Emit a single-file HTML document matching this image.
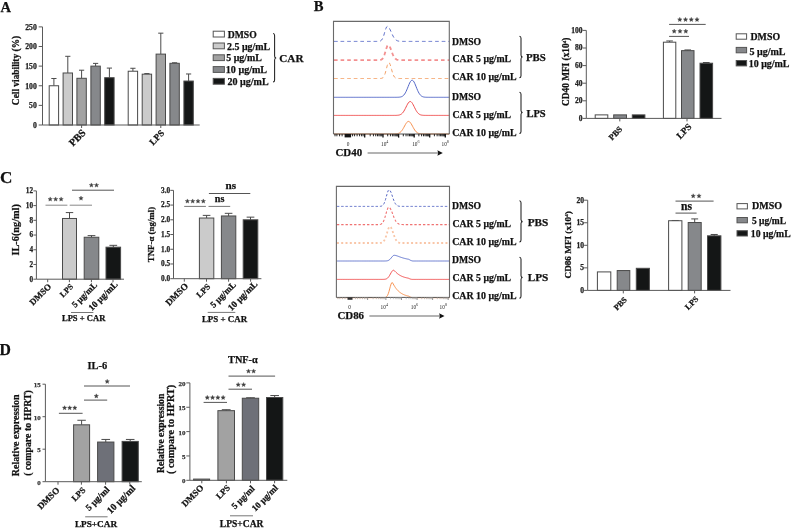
<!DOCTYPE html>
<html><head><meta charset="utf-8"><style>
html,body{margin:0;padding:0;background:#fff;}
body{width:797px;height:528px;overflow:hidden;}
svg{display:block;will-change:transform;}
</style></head><body>
<svg width="797" height="528" viewBox="0 0 797 528" font-family="Liberation Serif, serif">
<rect x="0" y="0" width="797" height="528" fill="#ffffff"/>
<text x="0.54" y="11.52" font-family="Liberation Serif" font-size="14.54" font-weight="bold" text-anchor="start" fill="#111111" stroke="#111111" stroke-width="0.25" >A</text>
<text x="313.8" y="11.38" font-family="Liberation Serif" font-size="14.61" font-weight="bold" text-anchor="start" fill="#111111" stroke="#111111" stroke-width="0.25" >B</text>
<text x="-0.02" y="183.16" font-family="Liberation Serif" font-size="17.14" font-weight="bold" text-anchor="start" fill="#111111" stroke="#111111" stroke-width="0.25" >C</text>
<text x="-0.64" y="355.42" font-family="Liberation Serif" font-size="15.75" font-weight="bold" text-anchor="start" fill="#111111" stroke="#111111" stroke-width="0.25" >D</text>
<line x1="53.9" y1="85.75" x2="53.9" y2="78.49" stroke="#4a4a4a" stroke-width="1" />
<line x1="51.3" y1="78.49" x2="56.5" y2="78.49" stroke="#4a4a4a" stroke-width="1" />
<rect x="49.2" y="85.75" width="9.4" height="39.25" fill="#ffffff" stroke="#4a4a4a" stroke-width="1"/>
<line x1="67.8" y1="72.99" x2="67.8" y2="56.31" stroke="#4a4a4a" stroke-width="1" />
<line x1="65.2" y1="56.31" x2="70.4" y2="56.31" stroke="#4a4a4a" stroke-width="1" />
<rect x="63.1" y="72.99" width="9.4" height="52.01" fill="#cbcbcb" stroke="#4a4a4a" stroke-width="1"/>
<line x1="81.6" y1="78.29" x2="81.6" y2="70.21" stroke="#4a4a4a" stroke-width="1" />
<line x1="79" y1="70.21" x2="84.2" y2="70.21" stroke="#4a4a4a" stroke-width="1" />
<rect x="76.9" y="78.29" width="9.4" height="46.71" fill="#a2a2a2" stroke="#4a4a4a" stroke-width="1"/>
<line x1="95.6" y1="66.12" x2="95.6" y2="63.38" stroke="#4a4a4a" stroke-width="1" />
<line x1="93" y1="63.38" x2="98.2" y2="63.38" stroke="#4a4a4a" stroke-width="1" />
<rect x="90.9" y="66.12" width="9.4" height="58.88" fill="#86888b" stroke="#4a4a4a" stroke-width="1"/>
<line x1="109.4" y1="77.7" x2="109.4" y2="68.09" stroke="#4a4a4a" stroke-width="1" />
<line x1="106.8" y1="68.09" x2="112" y2="68.09" stroke="#4a4a4a" stroke-width="1" />
<rect x="104.7" y="77.7" width="9.4" height="47.3" fill="#141616" stroke="#4a4a4a" stroke-width="1"/>
<line x1="132.9" y1="71.23" x2="132.9" y2="68.28" stroke="#4a4a4a" stroke-width="1" />
<line x1="130.3" y1="68.28" x2="135.5" y2="68.28" stroke="#4a4a4a" stroke-width="1" />
<rect x="128.2" y="71.23" width="9.4" height="53.77" fill="#ffffff" stroke="#4a4a4a" stroke-width="1"/>
<line x1="146.9" y1="74.17" x2="146.9" y2="73.58" stroke="#4a4a4a" stroke-width="1" />
<line x1="144.3" y1="73.58" x2="149.5" y2="73.58" stroke="#4a4a4a" stroke-width="1" />
<rect x="142.2" y="74.17" width="9.4" height="50.83" fill="#cbcbcb" stroke="#4a4a4a" stroke-width="1"/>
<line x1="160.8" y1="54.11" x2="160.8" y2="33.16" stroke="#4a4a4a" stroke-width="1" />
<line x1="158.2" y1="33.16" x2="163.4" y2="33.16" stroke="#4a4a4a" stroke-width="1" />
<rect x="156.1" y="54.11" width="9.4" height="70.89" fill="#a2a2a2" stroke="#4a4a4a" stroke-width="1"/>
<line x1="174.6" y1="63.3" x2="174.6" y2="62.79" stroke="#4a4a4a" stroke-width="1" />
<line x1="172" y1="62.79" x2="177.2" y2="62.79" stroke="#4a4a4a" stroke-width="1" />
<rect x="169.9" y="63.3" width="9.4" height="61.7" fill="#86888b" stroke="#4a4a4a" stroke-width="1"/>
<line x1="188.6" y1="81.04" x2="188.6" y2="73.97" stroke="#4a4a4a" stroke-width="1" />
<line x1="186" y1="73.97" x2="191.2" y2="73.97" stroke="#4a4a4a" stroke-width="1" />
<rect x="183.9" y="81.04" width="9.4" height="43.96" fill="#141616" stroke="#4a4a4a" stroke-width="1"/>
<line x1="42.5" y1="125" x2="42.5" y2="26.88" stroke="#5a5a5a" stroke-width="1" />
<line x1="42.5" y1="125" x2="199.7" y2="125" stroke="#5a5a5a" stroke-width="1" />
<line x1="38.7" y1="125" x2="42.5" y2="125" stroke="#5a5a5a" stroke-width="1" />
<text x="36.8" y="127.84" font-family="Liberation Serif" font-size="7.7" font-weight="bold" text-anchor="end" fill="#222" stroke="#222" stroke-width="0.25" >0</text>
<line x1="38.7" y1="105.38" x2="42.5" y2="105.38" stroke="#5a5a5a" stroke-width="1" />
<text x="36.8" y="108.22" font-family="Liberation Serif" font-size="7.7" font-weight="bold" text-anchor="end" fill="#222" stroke="#222" stroke-width="0.25" >50</text>
<line x1="38.7" y1="85.75" x2="42.5" y2="85.75" stroke="#5a5a5a" stroke-width="1" />
<text x="36.8" y="88.59" font-family="Liberation Serif" font-size="7.7" font-weight="bold" text-anchor="end" fill="#222" stroke="#222" stroke-width="0.25" >100</text>
<line x1="38.7" y1="66.12" x2="42.5" y2="66.12" stroke="#5a5a5a" stroke-width="1" />
<text x="36.8" y="68.97" font-family="Liberation Serif" font-size="7.7" font-weight="bold" text-anchor="end" fill="#222" stroke="#222" stroke-width="0.25" >150</text>
<line x1="38.7" y1="46.5" x2="42.5" y2="46.5" stroke="#5a5a5a" stroke-width="1" />
<text x="36.8" y="49.34" font-family="Liberation Serif" font-size="7.7" font-weight="bold" text-anchor="end" fill="#222" stroke="#222" stroke-width="0.25" >200</text>
<line x1="38.7" y1="26.88" x2="42.5" y2="26.88" stroke="#5a5a5a" stroke-width="1" />
<text x="36.8" y="29.72" font-family="Liberation Serif" font-size="7.7" font-weight="bold" text-anchor="end" fill="#222" stroke="#222" stroke-width="0.25" >250</text>
<line x1="81.6" y1="125" x2="81.6" y2="128" stroke="#5a5a5a" stroke-width="1" />
<line x1="160.8" y1="125" x2="160.8" y2="128" stroke="#5a5a5a" stroke-width="1" />
<text x="86.4" y="133.5" font-family="Liberation Serif" font-size="10.24" font-weight="bold" text-anchor="end" fill="#111111" stroke="#111111" stroke-width="0.25" transform="rotate(-45 86.4 133.5)" >PBS</text>
<text x="164.88" y="133.74" font-family="Liberation Serif" font-size="9.18" font-weight="bold" text-anchor="end" fill="#111111" stroke="#111111" stroke-width="0.25" transform="rotate(-45 164.88 133.74)" >LPS</text>
<text x="18.52" y="70.5" font-family="Liberation Serif" font-size="9.39" font-weight="bold" text-anchor="middle" fill="#111111" stroke="#111111" stroke-width="0.25" transform="rotate(-90 18.52 70.5)" >Cell viability (%)</text>
<rect x="213.2" y="31.2" width="11.2" height="5.8" fill="#ffffff" stroke="#555" stroke-width="1"/>
<text x="227.68" y="38.18" font-family="Liberation Serif" font-size="9.67" font-weight="bold" text-anchor="start" fill="#111111" stroke="#111111" stroke-width="0.25" >DMSO</text>
<rect x="213.2" y="43" width="11.2" height="5.8" fill="#cbcbcb" stroke="#555" stroke-width="1"/>
<text x="227.04" y="49.5" font-family="Liberation Serif" font-size="9.94" font-weight="bold" text-anchor="start" fill="#111111" stroke="#111111" stroke-width="0.25" >2.5 μg/mL</text>
<rect x="213.2" y="54.8" width="11.2" height="5.8" fill="#a2a2a2" stroke="#555" stroke-width="1"/>
<text x="226.24" y="61.3" font-family="Liberation Serif" font-size="9.93" font-weight="bold" text-anchor="start" fill="#111111" stroke="#111111" stroke-width="0.25" >5 μg/mL</text>
<rect x="213.2" y="66.6" width="11.2" height="5.8" fill="#86888b" stroke="#555" stroke-width="1"/>
<text x="225.84" y="73.1" font-family="Liberation Serif" font-size="10.09" font-weight="bold" text-anchor="start" fill="#111111" stroke="#111111" stroke-width="0.25" >10 μg/mL</text>
<rect x="213.2" y="78.4" width="11.2" height="5.8" fill="#141616" stroke="#555" stroke-width="1"/>
<text x="227.52" y="84.9" font-family="Liberation Serif" font-size="10.04" font-weight="bold" text-anchor="start" fill="#111111" stroke="#111111" stroke-width="0.25" >20 μg/mL</text>
<path d="M273,33.5 Q274.6,33.5 274.6,35.5 L274.6,56 Q274.6,58 276.2,58 Q274.6,58 274.6,60 L274.6,80 Q274.6,82 273,82" stroke="#222" stroke-width="1.05" fill="none" />
<text x="279.3" y="62.1" font-family="Liberation Serif" font-size="11.17" font-weight="bold" text-anchor="start" fill="#111111" stroke="#111111" stroke-width="0.25" >CAR</text>
<path d="M334,41.4 L334.72,41.4 L335.44,41.4 L336.16,41.4 L336.88,41.4 L337.6,41.4 L338.32,41.4 L339.04,41.4 L339.76,41.4 L340.49,41.4 L341.21,41.4 L341.93,41.4 L342.65,41.4 L343.37,41.4 L344.09,41.4 L344.81,41.4 L345.53,41.4 L346.25,41.4 L346.97,41.4 L347.69,41.4 L348.41,41.4 L349.13,41.4 L349.85,41.4 L350.57,41.4 L351.3,41.4 L352.02,41.4 L352.74,41.4 L353.46,41.4 L354.18,41.4 L354.9,41.4 L355.62,41.4 L356.34,41.4 L357.06,41.4 L357.78,41.4 L358.5,41.4 L359.22,41.4 L359.94,41.4 L360.66,41.4 L361.38,41.4 L362.1,41.4 L362.82,41.4 L363.55,41.4 L364.27,41.4 L364.99,41.4 L365.71,41.4 L366.43,41.4 L367.15,41.4 L367.87,41.4 L368.59,41.4 L369.31,41.4 L370.03,41.4 L370.75,41.4 L371.47,41.4 L372.19,41.4 L372.91,41.4 L373.63,41.4 L374.36,41.4 L375.08,41.4 L375.8,41.4 L376.52,41.4 L377.24,41.39 L377.96,41.38 L378.68,41.34 L379.4,41.25 L380.12,41.07 L380.84,40.71 L381.56,40.09 L382.28,39.07 L383,37.57 L383.72,35.58 L384.44,33.2 L385.16,30.7 L385.88,28.46 L386.61,26.93 L387.33,26.4 L388.05,26.66 L388.77,27.38 L389.49,28.48 L390.21,29.89 L390.93,31.46 L391.65,33.1 L392.37,34.68 L393.09,36.14 L393.81,37.41 L394.53,38.47 L395.25,39.32 L395.97,39.97 L396.69,40.45 L397.42,40.79 L398.14,41.02 L398.86,41.17 L399.58,41.26 L400.3,41.32 L401.02,41.36 L401.74,41.38 L402.46,41.39 L403.18,41.39 L403.9,41.4 L404.62,41.4 L405.34,41.4 L406.06,41.4 L406.78,41.4 L407.5,41.4 L408.22,41.4 L408.94,41.4 L409.67,41.4 L410.39,41.4 L411.11,41.4 L411.83,41.4 L412.55,41.4 L413.27,41.4 L413.99,41.4 L414.71,41.4 L415.43,41.4 L416.15,41.4 L416.87,41.4 L417.59,41.4 L418.31,41.4 L419.03,41.4 L419.75,41.4 L420.48,41.4 L421.2,41.4 L421.92,41.4 L422.64,41.4 L423.36,41.4 L424.08,41.4 L424.8,41.4 L425.52,41.4 L426.24,41.4 L426.96,41.4 L427.68,41.4 L428.4,41.4 L429.12,41.4 L429.84,41.4 L430.56,41.4 L431.28,41.4 L432,41.4 L432.73,41.4 L433.45,41.4 L434.17,41.4 L434.89,41.4 L435.61,41.4 L436.33,41.4 L437.05,41.4 L437.77,41.4 L438.49,41.4 L439.21,41.4 L439.93,41.4 L440.65,41.4 L441.37,41.4 L442.09,41.4 L442.81,41.4 L443.54,41.4 L444.26,41.4 L444.98,41.4 L445.7,41.4 L446.42,41.4 L447.14,41.4 L447.86,41.4 L448.58,41.4 L449.3,41.4" stroke="#5a6cc8" stroke-width="1" fill="none" stroke-dasharray="3.6 3.0" stroke-linejoin="round"/>
<path d="M334,60.1 L334.72,60.1 L335.44,60.1 L336.16,60.1 L336.88,60.1 L337.6,60.1 L338.32,60.1 L339.04,60.1 L339.76,60.1 L340.49,60.1 L341.21,60.1 L341.93,60.1 L342.65,60.1 L343.37,60.1 L344.09,60.1 L344.81,60.1 L345.53,60.1 L346.25,60.1 L346.97,60.1 L347.69,60.1 L348.41,60.1 L349.13,60.1 L349.85,60.1 L350.57,60.1 L351.3,60.1 L352.02,60.1 L352.74,60.1 L353.46,60.1 L354.18,60.1 L354.9,60.1 L355.62,60.1 L356.34,60.1 L357.06,60.1 L357.78,60.1 L358.5,60.1 L359.22,60.1 L359.94,60.1 L360.66,60.1 L361.38,60.1 L362.1,60.1 L362.82,60.1 L363.55,60.1 L364.27,60.1 L364.99,60.1 L365.71,60.1 L366.43,60.1 L367.15,60.1 L367.87,60.1 L368.59,60.1 L369.31,60.1 L370.03,60.1 L370.75,60.1 L371.47,60.1 L372.19,60.1 L372.91,60.1 L373.63,60.1 L374.36,60.1 L375.08,60.1 L375.8,60.1 L376.52,60.1 L377.24,60.1 L377.96,60.09 L378.68,60.08 L379.4,60.05 L380.12,59.98 L380.84,59.83 L381.56,59.52 L382.28,58.98 L383,58.07 L383.72,56.69 L384.44,54.82 L385.16,52.51 L385.88,50.01 L386.61,47.67 L387.33,45.92 L388.05,45.13 L388.77,45.32 L389.49,46.2 L390.21,47.64 L390.93,49.45 L391.65,51.42 L392.37,53.35 L393.09,55.1 L393.81,56.57 L394.53,57.72 L395.25,58.57 L395.97,59.16 L396.69,59.55 L397.42,59.8 L398.14,59.94 L398.86,60.02 L399.58,60.06 L400.3,60.08 L401.02,60.09 L401.74,60.1 L402.46,60.1 L403.18,60.1 L403.9,60.1 L404.62,60.1 L405.34,60.1 L406.06,60.1 L406.78,60.1 L407.5,60.1 L408.22,60.1 L408.94,60.1 L409.67,60.1 L410.39,60.1 L411.11,60.1 L411.83,60.1 L412.55,60.1 L413.27,60.1 L413.99,60.1 L414.71,60.1 L415.43,60.1 L416.15,60.1 L416.87,60.1 L417.59,60.1 L418.31,60.1 L419.03,60.1 L419.75,60.1 L420.48,60.1 L421.2,60.1 L421.92,60.1 L422.64,60.1 L423.36,60.1 L424.08,60.1 L424.8,60.1 L425.52,60.1 L426.24,60.1 L426.96,60.1 L427.68,60.1 L428.4,60.1 L429.12,60.1 L429.84,60.1 L430.56,60.1 L431.28,60.1 L432,60.1 L432.73,60.1 L433.45,60.1 L434.17,60.1 L434.89,60.1 L435.61,60.1 L436.33,60.1 L437.05,60.1 L437.77,60.1 L438.49,60.1 L439.21,60.1 L439.93,60.1 L440.65,60.1 L441.37,60.1 L442.09,60.1 L442.81,60.1 L443.54,60.1 L444.26,60.1 L444.98,60.1 L445.7,60.1 L446.42,60.1 L447.14,60.1 L447.86,60.1 L448.58,60.1 L449.3,60.1" stroke="#f39090" stroke-width="1.8" fill="none" stroke-dasharray="3.6 3.0" stroke-linejoin="round"/>
<path d="M334,78.5 L334.72,78.5 L335.44,78.5 L336.16,78.5 L336.88,78.5 L337.6,78.5 L338.32,78.5 L339.04,78.5 L339.76,78.5 L340.49,78.5 L341.21,78.5 L341.93,78.5 L342.65,78.5 L343.37,78.5 L344.09,78.5 L344.81,78.5 L345.53,78.5 L346.25,78.5 L346.97,78.5 L347.69,78.5 L348.41,78.5 L349.13,78.5 L349.85,78.5 L350.57,78.5 L351.3,78.5 L352.02,78.5 L352.74,78.5 L353.46,78.5 L354.18,78.5 L354.9,78.5 L355.62,78.5 L356.34,78.5 L357.06,78.5 L357.78,78.5 L358.5,78.5 L359.22,78.5 L359.94,78.5 L360.66,78.5 L361.38,78.5 L362.1,78.5 L362.82,78.5 L363.55,78.5 L364.27,78.5 L364.99,78.5 L365.71,78.5 L366.43,78.5 L367.15,78.5 L367.87,78.5 L368.59,78.5 L369.31,78.5 L370.03,78.5 L370.75,78.5 L371.47,78.5 L372.19,78.5 L372.91,78.5 L373.63,78.5 L374.36,78.5 L375.08,78.5 L375.8,78.5 L376.52,78.5 L377.24,78.5 L377.96,78.5 L378.68,78.5 L379.4,78.49 L380.12,78.48 L380.84,78.43 L381.56,78.33 L382.28,78.1 L383,77.64 L383.72,76.79 L384.44,75.42 L385.16,73.42 L385.88,70.85 L386.61,67.97 L387.33,65.25 L388.05,63.27 L388.77,62.5 L389.49,63.05 L390.21,64.68 L390.93,67.06 L391.65,69.73 L392.37,72.27 L393.09,74.4 L393.81,76 L394.53,77.09 L395.25,77.76 L395.97,78.14 L396.69,78.34 L397.42,78.43 L398.14,78.47 L398.86,78.49 L399.58,78.5 L400.3,78.5 L401.02,78.5 L401.74,78.5 L402.46,78.5 L403.18,78.5 L403.9,78.5 L404.62,78.5 L405.34,78.5 L406.06,78.5 L406.78,78.5 L407.5,78.5 L408.22,78.5 L408.94,78.5 L409.67,78.5 L410.39,78.5 L411.11,78.5 L411.83,78.5 L412.55,78.5 L413.27,78.5 L413.99,78.5 L414.71,78.5 L415.43,78.5 L416.15,78.5 L416.87,78.5 L417.59,78.5 L418.31,78.5 L419.03,78.5 L419.75,78.5 L420.48,78.5 L421.2,78.5 L421.92,78.5 L422.64,78.5 L423.36,78.5 L424.08,78.5 L424.8,78.5 L425.52,78.5 L426.24,78.5 L426.96,78.5 L427.68,78.5 L428.4,78.5 L429.12,78.5 L429.84,78.5 L430.56,78.5 L431.28,78.5 L432,78.5 L432.73,78.5 L433.45,78.5 L434.17,78.5 L434.89,78.5 L435.61,78.5 L436.33,78.5 L437.05,78.5 L437.77,78.5 L438.49,78.5 L439.21,78.5 L439.93,78.5 L440.65,78.5 L441.37,78.5 L442.09,78.5 L442.81,78.5 L443.54,78.5 L444.26,78.5 L444.98,78.5 L445.7,78.5 L446.42,78.5 L447.14,78.5 L447.86,78.5 L448.58,78.5 L449.3,78.5" stroke="#f4a066" stroke-width="1" fill="none" stroke-dasharray="3.6 3.0" stroke-linejoin="round"/>
<path d="M334,97.3 L334.72,97.3 L335.44,97.3 L336.16,97.3 L336.88,97.3 L337.6,97.3 L338.32,97.3 L339.04,97.3 L339.76,97.3 L340.49,97.3 L341.21,97.3 L341.93,97.3 L342.65,97.3 L343.37,97.3 L344.09,97.3 L344.81,97.3 L345.53,97.3 L346.25,97.3 L346.97,97.3 L347.69,97.3 L348.41,97.3 L349.13,97.3 L349.85,97.3 L350.57,97.3 L351.3,97.3 L352.02,97.3 L352.74,97.3 L353.46,97.3 L354.18,97.3 L354.9,97.3 L355.62,97.3 L356.34,97.3 L357.06,97.3 L357.78,97.3 L358.5,97.3 L359.22,97.3 L359.94,97.3 L360.66,97.3 L361.38,97.3 L362.1,97.3 L362.82,97.3 L363.55,97.3 L364.27,97.3 L364.99,97.3 L365.71,97.3 L366.43,97.3 L367.15,97.3 L367.87,97.3 L368.59,97.3 L369.31,97.3 L370.03,97.3 L370.75,97.3 L371.47,97.3 L372.19,97.3 L372.91,97.3 L373.63,97.3 L374.36,97.3 L375.08,97.3 L375.8,97.3 L376.52,97.3 L377.24,97.3 L377.96,97.3 L378.68,97.3 L379.4,97.3 L380.12,97.3 L380.84,97.3 L381.56,97.3 L382.28,97.3 L383,97.3 L383.72,97.3 L384.44,97.3 L385.16,97.3 L385.88,97.3 L386.61,97.3 L387.33,97.3 L388.05,97.3 L388.77,97.3 L389.49,97.3 L390.21,97.3 L390.93,97.3 L391.65,97.3 L392.37,97.3 L393.09,97.3 L393.81,97.3 L394.53,97.3 L395.25,97.3 L395.97,97.29 L396.69,97.29 L397.42,97.27 L398.14,97.25 L398.86,97.21 L399.58,97.14 L400.3,97.03 L401.02,96.86 L401.74,96.6 L402.46,96.22 L403.18,95.7 L403.9,94.99 L404.62,94.06 L405.34,92.9 L406.06,91.52 L406.78,89.92 L407.5,88.18 L408.22,86.36 L408.94,84.58 L409.67,82.96 L410.39,81.63 L411.11,80.69 L411.83,80.24 L412.55,80.3 L413.27,80.88 L413.99,81.92 L414.71,83.34 L415.43,85.01 L416.15,86.81 L416.87,88.61 L417.59,90.33 L418.31,91.88 L419.03,93.21 L419.75,94.31 L420.48,95.18 L421.2,95.84 L421.92,96.33 L422.64,96.67 L423.36,96.91 L424.08,97.06 L424.8,97.16 L425.52,97.22 L426.24,97.26 L426.96,97.28 L427.68,97.29 L428.4,97.29 L429.12,97.3 L429.84,97.3 L430.56,97.3 L431.28,97.3 L432,97.3 L432.73,97.3 L433.45,97.3 L434.17,97.3 L434.89,97.3 L435.61,97.3 L436.33,97.3 L437.05,97.3 L437.77,97.3 L438.49,97.3 L439.21,97.3 L439.93,97.3 L440.65,97.3 L441.37,97.3 L442.09,97.3 L442.81,97.3 L443.54,97.3 L444.26,97.3 L444.98,97.3 L445.7,97.3 L446.42,97.3 L447.14,97.3 L447.86,97.3 L448.58,97.3 L449.3,97.3" stroke="#5468c8" stroke-width="1" fill="none"  stroke-linejoin="round"/>
<path d="M334,115.4 L334.72,115.4 L335.44,115.4 L336.16,115.4 L336.88,115.4 L337.6,115.4 L338.32,115.4 L339.04,115.4 L339.76,115.4 L340.49,115.4 L341.21,115.4 L341.93,115.4 L342.65,115.4 L343.37,115.4 L344.09,115.4 L344.81,115.4 L345.53,115.4 L346.25,115.4 L346.97,115.4 L347.69,115.4 L348.41,115.4 L349.13,115.4 L349.85,115.4 L350.57,115.4 L351.3,115.4 L352.02,115.4 L352.74,115.4 L353.46,115.4 L354.18,115.4 L354.9,115.4 L355.62,115.4 L356.34,115.4 L357.06,115.4 L357.78,115.4 L358.5,115.4 L359.22,115.4 L359.94,115.4 L360.66,115.4 L361.38,115.4 L362.1,115.4 L362.82,115.4 L363.55,115.4 L364.27,115.4 L364.99,115.4 L365.71,115.4 L366.43,115.4 L367.15,115.4 L367.87,115.4 L368.59,115.4 L369.31,115.4 L370.03,115.4 L370.75,115.4 L371.47,115.4 L372.19,115.4 L372.91,115.4 L373.63,115.4 L374.36,115.4 L375.08,115.4 L375.8,115.4 L376.52,115.4 L377.24,115.4 L377.96,115.4 L378.68,115.4 L379.4,115.4 L380.12,115.4 L380.84,115.4 L381.56,115.4 L382.28,115.4 L383,115.4 L383.72,115.4 L384.44,115.4 L385.16,115.4 L385.88,115.4 L386.61,115.4 L387.33,115.4 L388.05,115.4 L388.77,115.4 L389.49,115.4 L390.21,115.4 L390.93,115.4 L391.65,115.4 L392.37,115.4 L393.09,115.4 L393.81,115.4 L394.53,115.39 L395.25,115.38 L395.97,115.37 L396.69,115.34 L397.42,115.29 L398.14,115.22 L398.86,115.1 L399.58,114.92 L400.3,114.65 L401.02,114.27 L401.74,113.75 L402.46,113.06 L403.18,112.19 L403.9,111.13 L404.62,109.89 L405.34,108.51 L406.06,107.05 L406.78,105.58 L407.5,104.2 L408.22,103.02 L408.94,102.14 L409.67,101.62 L410.39,101.51 L411.11,101.84 L411.83,102.55 L412.55,103.6 L413.27,104.9 L413.99,106.33 L414.71,107.81 L415.43,109.24 L416.15,110.55 L416.87,111.7 L417.59,112.66 L418.31,113.44 L419.03,114.04 L419.75,114.48 L420.48,114.8 L421.2,115.02 L421.92,115.17 L422.64,115.26 L423.36,115.32 L424.08,115.35 L424.8,115.38 L425.52,115.39 L426.24,115.39 L426.96,115.4 L427.68,115.4 L428.4,115.4 L429.12,115.4 L429.84,115.4 L430.56,115.4 L431.28,115.4 L432,115.4 L432.73,115.4 L433.45,115.4 L434.17,115.4 L434.89,115.4 L435.61,115.4 L436.33,115.4 L437.05,115.4 L437.77,115.4 L438.49,115.4 L439.21,115.4 L439.93,115.4 L440.65,115.4 L441.37,115.4 L442.09,115.4 L442.81,115.4 L443.54,115.4 L444.26,115.4 L444.98,115.4 L445.7,115.4 L446.42,115.4 L447.14,115.4 L447.86,115.4 L448.58,115.4 L449.3,115.4" stroke="#f04c4c" stroke-width="1" fill="none"  stroke-linejoin="round"/>
<path d="M334,134 L334.72,134 L335.44,134 L336.16,134 L336.88,134 L337.6,134 L338.32,134 L339.04,134 L339.76,134 L340.49,134 L341.21,134 L341.93,134 L342.65,134 L343.37,134 L344.09,134 L344.81,134 L345.53,134 L346.25,134 L346.97,134 L347.69,134 L348.41,134 L349.13,134 L349.85,134 L350.57,134 L351.3,134 L352.02,134 L352.74,134 L353.46,134 L354.18,134 L354.9,134 L355.62,134 L356.34,134 L357.06,134 L357.78,134 L358.5,134 L359.22,134 L359.94,134 L360.66,134 L361.38,134 L362.1,134 L362.82,134 L363.55,134 L364.27,134 L364.99,134 L365.71,134 L366.43,134 L367.15,134 L367.87,134 L368.59,134 L369.31,134 L370.03,134 L370.75,134 L371.47,134 L372.19,134 L372.91,134 L373.63,134 L374.36,134 L375.08,134 L375.8,134 L376.52,134 L377.24,134 L377.96,134 L378.68,134 L379.4,134 L380.12,134 L380.84,134 L381.56,134 L382.28,134 L383,134 L383.72,134 L384.44,134 L385.16,134 L385.88,134 L386.61,134 L387.33,134 L388.05,134 L388.77,134 L389.49,134 L390.21,134 L390.93,134 L391.65,134 L392.37,133.99 L393.09,133.99 L393.81,133.98 L394.53,133.96 L395.25,133.93 L395.97,133.88 L396.69,133.8 L397.42,133.67 L398.14,133.48 L398.86,133.21 L399.58,132.82 L400.3,132.3 L401.02,131.62 L401.74,130.77 L402.46,129.74 L403.18,128.57 L403.9,127.28 L404.62,125.95 L405.34,124.63 L406.06,123.44 L406.78,122.46 L407.5,121.77 L408.22,121.43 L408.94,121.47 L409.67,121.9 L410.39,122.67 L411.11,123.71 L411.83,124.94 L412.55,126.26 L413.27,127.59 L413.99,128.86 L414.71,130 L415.43,130.98 L416.15,131.79 L416.87,132.43 L417.59,132.92 L418.31,133.28 L419.03,133.54 L419.75,133.71 L420.48,133.82 L421.2,133.9 L421.92,133.94 L422.64,133.97 L423.36,133.98 L424.08,133.99 L424.8,134 L425.52,134 L426.24,134 L426.96,134 L427.68,134 L428.4,134 L429.12,134 L429.84,134 L430.56,134 L431.28,134 L432,134 L432.73,134 L433.45,134 L434.17,134 L434.89,134 L435.61,134 L436.33,134 L437.05,134 L437.77,134 L438.49,134 L439.21,134 L439.93,134 L440.65,134 L441.37,134 L442.09,134 L442.81,134 L443.54,134 L444.26,134 L444.98,134 L445.7,134 L446.42,134 L447.14,134 L447.86,134 L448.58,134 L449.3,134" stroke="#f7904e" stroke-width="1" fill="none"  stroke-linejoin="round"/>
<path d="M333.5,134 L333.5,21.4 L449.3,21.4 L449.3,134" stroke="#6a6a6a" stroke-width="1.1" fill="none"/>
<line x1="333.5" y1="134" x2="449.3" y2="134" stroke="#555" stroke-width="1" />
<line x1="364.7" y1="134" x2="364.7" y2="137.6" stroke="#111" stroke-width="1.3" />
<line x1="383" y1="134" x2="383" y2="137.6" stroke="#111" stroke-width="1.3" />
<line x1="398.6" y1="134" x2="398.6" y2="137.6" stroke="#111" stroke-width="1.3" />
<line x1="414.2" y1="134" x2="414.2" y2="137.6" stroke="#111" stroke-width="1.3" />
<line x1="429.7" y1="134" x2="429.7" y2="137.6" stroke="#111" stroke-width="1.3" />
<line x1="445.3" y1="134" x2="445.3" y2="137.6" stroke="#111" stroke-width="1.3" />
<line x1="370.21" y1="134" x2="370.21" y2="136.3" stroke="#222" stroke-width="1" />
<line x1="373.43" y1="134" x2="373.43" y2="136.3" stroke="#222" stroke-width="1" />
<line x1="375.72" y1="134" x2="375.72" y2="136.3" stroke="#222" stroke-width="1" />
<line x1="377.49" y1="134" x2="377.49" y2="136.3" stroke="#222" stroke-width="1" />
<line x1="378.94" y1="134" x2="378.94" y2="136.3" stroke="#222" stroke-width="1" />
<line x1="380.17" y1="134" x2="380.17" y2="136.3" stroke="#222" stroke-width="1" />
<line x1="381.23" y1="134" x2="381.23" y2="136.3" stroke="#222" stroke-width="1" />
<line x1="382.16" y1="134" x2="382.16" y2="136.3" stroke="#222" stroke-width="1" />
<line x1="387.7" y1="134" x2="387.7" y2="136.3" stroke="#222" stroke-width="1" />
<line x1="390.44" y1="134" x2="390.44" y2="136.3" stroke="#222" stroke-width="1" />
<line x1="392.39" y1="134" x2="392.39" y2="136.3" stroke="#222" stroke-width="1" />
<line x1="393.9" y1="134" x2="393.9" y2="136.3" stroke="#222" stroke-width="1" />
<line x1="395.14" y1="134" x2="395.14" y2="136.3" stroke="#222" stroke-width="1" />
<line x1="396.18" y1="134" x2="396.18" y2="136.3" stroke="#222" stroke-width="1" />
<line x1="397.09" y1="134" x2="397.09" y2="136.3" stroke="#222" stroke-width="1" />
<line x1="397.89" y1="134" x2="397.89" y2="136.3" stroke="#222" stroke-width="1" />
<line x1="403.3" y1="134" x2="403.3" y2="136.3" stroke="#222" stroke-width="1" />
<line x1="406.04" y1="134" x2="406.04" y2="136.3" stroke="#222" stroke-width="1" />
<line x1="407.99" y1="134" x2="407.99" y2="136.3" stroke="#222" stroke-width="1" />
<line x1="409.5" y1="134" x2="409.5" y2="136.3" stroke="#222" stroke-width="1" />
<line x1="410.74" y1="134" x2="410.74" y2="136.3" stroke="#222" stroke-width="1" />
<line x1="411.78" y1="134" x2="411.78" y2="136.3" stroke="#222" stroke-width="1" />
<line x1="412.69" y1="134" x2="412.69" y2="136.3" stroke="#222" stroke-width="1" />
<line x1="413.49" y1="134" x2="413.49" y2="136.3" stroke="#222" stroke-width="1" />
<line x1="418.87" y1="134" x2="418.87" y2="136.3" stroke="#222" stroke-width="1" />
<line x1="421.6" y1="134" x2="421.6" y2="136.3" stroke="#222" stroke-width="1" />
<line x1="423.53" y1="134" x2="423.53" y2="136.3" stroke="#222" stroke-width="1" />
<line x1="425.03" y1="134" x2="425.03" y2="136.3" stroke="#222" stroke-width="1" />
<line x1="426.26" y1="134" x2="426.26" y2="136.3" stroke="#222" stroke-width="1" />
<line x1="427.3" y1="134" x2="427.3" y2="136.3" stroke="#222" stroke-width="1" />
<line x1="428.2" y1="134" x2="428.2" y2="136.3" stroke="#222" stroke-width="1" />
<line x1="428.99" y1="134" x2="428.99" y2="136.3" stroke="#222" stroke-width="1" />
<line x1="434.4" y1="134" x2="434.4" y2="136.3" stroke="#222" stroke-width="1" />
<line x1="437.14" y1="134" x2="437.14" y2="136.3" stroke="#222" stroke-width="1" />
<line x1="439.09" y1="134" x2="439.09" y2="136.3" stroke="#222" stroke-width="1" />
<line x1="440.6" y1="134" x2="440.6" y2="136.3" stroke="#222" stroke-width="1" />
<line x1="441.84" y1="134" x2="441.84" y2="136.3" stroke="#222" stroke-width="1" />
<line x1="442.88" y1="134" x2="442.88" y2="136.3" stroke="#222" stroke-width="1" />
<line x1="443.79" y1="134" x2="443.79" y2="136.3" stroke="#222" stroke-width="1" />
<line x1="444.59" y1="134" x2="444.59" y2="136.3" stroke="#222" stroke-width="1" />
<rect x="344.6" y="134" width="6.5" height="3.4" fill="#151515"/>
<line x1="335" y1="134" x2="335" y2="136.3" stroke="#222" stroke-width="1" />
<line x1="336.9" y1="134" x2="336.9" y2="136.3" stroke="#222" stroke-width="1" />
<line x1="339.6" y1="134" x2="339.6" y2="136.3" stroke="#222" stroke-width="1" />
<line x1="342.1" y1="134" x2="342.1" y2="136.3" stroke="#222" stroke-width="1" />
<line x1="352.6" y1="134" x2="352.6" y2="136.3" stroke="#222" stroke-width="1" />
<line x1="354.6" y1="134" x2="354.6" y2="136.3" stroke="#222" stroke-width="1" />
<line x1="357.1" y1="134" x2="357.1" y2="136.3" stroke="#222" stroke-width="1" />
<line x1="359.6" y1="134" x2="359.6" y2="136.3" stroke="#222" stroke-width="1" />
<line x1="361.6" y1="134" x2="361.6" y2="136.3" stroke="#222" stroke-width="1" />
<line x1="363.1" y1="134" x2="363.1" y2="136.3" stroke="#222" stroke-width="1" />
<text x="348.2" y="146" font-family="Liberation Serif" font-size="5.3" font-weight="normal" text-anchor="middle" fill="#222" >0</text>
<text x="381" y="146" font-family="Liberation Serif" font-size="5.3" font-weight="normal" text-anchor="start" fill="#222" >10</text>
<text x="386.3" y="143.3" font-family="Liberation Serif" font-size="4" font-weight="normal" text-anchor="start" fill="#222" >4</text>
<text x="412.2" y="146" font-family="Liberation Serif" font-size="5.3" font-weight="normal" text-anchor="start" fill="#222" >10</text>
<text x="417.5" y="143.3" font-family="Liberation Serif" font-size="4" font-weight="normal" text-anchor="start" fill="#222" >6</text>
<text x="441.5" y="146" font-family="Liberation Serif" font-size="5.3" font-weight="normal" text-anchor="start" fill="#222" >10</text>
<text x="446.8" y="143.3" font-family="Liberation Serif" font-size="4" font-weight="normal" text-anchor="start" fill="#222" >8</text>
<text x="335.52" y="155.9" font-family="Liberation Serif" font-size="10.88" font-weight="bold" text-anchor="start" fill="#111111" stroke="#111111" stroke-width="0.25" >CD40</text>
<line x1="367.6" y1="153" x2="438.8" y2="153" stroke="#9a9a9a" stroke-width="1.6" />
<path d="M442.8,153 L437.4,150.3 L438.2,153 L437.4,155.7 Z" fill="#111"/>
<path d="M336.9,206.4 L337.6,206.4 L338.31,206.4 L339.01,206.4 L339.71,206.4 L340.42,206.4 L341.12,206.4 L341.83,206.4 L342.53,206.4 L343.23,206.4 L343.94,206.4 L344.64,206.4 L345.34,206.4 L346.05,206.4 L346.75,206.4 L347.46,206.4 L348.16,206.4 L348.86,206.4 L349.57,206.4 L350.27,206.4 L350.97,206.4 L351.68,206.4 L352.38,206.4 L353.09,206.4 L353.79,206.4 L354.49,206.4 L355.2,206.4 L355.9,206.4 L356.6,206.4 L357.31,206.4 L358.01,206.4 L358.72,206.4 L359.42,206.4 L360.12,206.4 L360.83,206.4 L361.53,206.4 L362.23,206.4 L362.94,206.4 L363.64,206.4 L364.35,206.4 L365.05,206.4 L365.75,206.4 L366.46,206.4 L367.16,206.4 L367.87,206.4 L368.57,206.4 L369.27,206.4 L369.98,206.4 L370.68,206.4 L371.38,206.4 L372.09,206.4 L372.79,206.4 L373.5,206.4 L374.2,206.4 L374.9,206.4 L375.61,206.4 L376.31,206.4 L377.01,206.4 L377.72,206.4 L378.42,206.39 L379.12,206.38 L379.83,206.35 L380.53,206.29 L381.24,206.16 L381.94,205.91 L382.64,205.45 L383.35,204.68 L384.05,203.51 L384.75,201.85 L385.46,199.71 L386.16,197.22 L386.87,194.61 L387.57,192.26 L388.27,190.56 L388.98,189.82 L389.68,190.06 L390.38,191.01 L391.09,192.56 L391.79,194.5 L392.5,196.63 L393.2,198.73 L393.9,200.65 L394.61,202.28 L395.31,203.58 L396.01,204.55 L396.72,205.24 L397.42,205.71 L398.13,206.01 L398.83,206.19 L399.53,206.29 L400.24,206.34 L400.94,206.37 L401.64,206.39 L402.35,206.39 L403.05,206.4 L403.76,206.4 L404.46,206.4 L405.16,206.4 L405.87,206.4 L406.57,206.4 L407.27,206.4 L407.98,206.4 L408.68,206.4 L409.39,206.4 L410.09,206.4 L410.79,206.4 L411.5,206.4 L412.2,206.4 L412.9,206.4 L413.61,206.4 L414.31,206.4 L415.02,206.4 L415.72,206.4 L416.42,206.4 L417.13,206.4 L417.83,206.4 L418.53,206.4 L419.24,206.4 L419.94,206.4 L420.65,206.4 L421.35,206.4 L422.05,206.4 L422.76,206.4 L423.46,206.4 L424.16,206.4 L424.87,206.4 L425.57,206.4 L426.28,206.4 L426.98,206.4 L427.68,206.4 L428.39,206.4 L429.09,206.4 L429.79,206.4 L430.5,206.4 L431.2,206.4 L431.91,206.4 L432.61,206.4 L433.31,206.4 L434.02,206.4 L434.72,206.4 L435.43,206.4 L436.13,206.4 L436.83,206.4 L437.54,206.4 L438.24,206.4 L438.94,206.4 L439.65,206.4 L440.35,206.4 L441.06,206.4 L441.76,206.4 L442.46,206.4 L443.17,206.4 L443.87,206.4 L444.57,206.4 L445.28,206.4 L445.98,206.4 L446.69,206.4 L447.39,206.4 L448.09,206.4 L448.8,206.4 L449.5,206.4" stroke="#5566c4" stroke-width="1" fill="none" stroke-dasharray="2.4 1.9" stroke-linejoin="round"/>
<path d="M336.9,224.6 L337.6,224.6 L338.31,224.6 L339.01,224.6 L339.71,224.6 L340.42,224.6 L341.12,224.6 L341.83,224.6 L342.53,224.6 L343.23,224.6 L343.94,224.6 L344.64,224.6 L345.34,224.6 L346.05,224.6 L346.75,224.6 L347.46,224.6 L348.16,224.6 L348.86,224.6 L349.57,224.6 L350.27,224.6 L350.97,224.6 L351.68,224.6 L352.38,224.6 L353.09,224.6 L353.79,224.6 L354.49,224.6 L355.2,224.6 L355.9,224.6 L356.6,224.6 L357.31,224.6 L358.01,224.6 L358.72,224.6 L359.42,224.6 L360.12,224.6 L360.83,224.6 L361.53,224.6 L362.23,224.6 L362.94,224.6 L363.64,224.6 L364.35,224.6 L365.05,224.6 L365.75,224.6 L366.46,224.6 L367.16,224.6 L367.87,224.6 L368.57,224.6 L369.27,224.6 L369.98,224.6 L370.68,224.6 L371.38,224.6 L372.09,224.6 L372.79,224.6 L373.5,224.6 L374.2,224.6 L374.9,224.6 L375.61,224.6 L376.31,224.6 L377.01,224.6 L377.72,224.59 L378.42,224.57 L379.12,224.53 L379.83,224.45 L380.53,224.3 L381.24,224.02 L381.94,223.54 L382.64,222.77 L383.35,221.63 L384.05,220.05 L384.75,218.02 L385.46,215.64 L386.16,213.09 L386.87,210.67 L387.57,208.7 L388.27,207.48 L388.98,207.22 L389.68,207.64 L390.38,208.58 L391.09,209.95 L391.79,211.64 L392.5,213.5 L393.2,215.39 L393.9,217.21 L394.61,218.86 L395.31,220.28 L396.01,221.46 L396.72,222.39 L397.42,223.09 L398.13,223.6 L398.83,223.96 L399.53,224.21 L400.24,224.36 L400.94,224.46 L401.64,224.52 L402.35,224.56 L403.05,224.58 L403.76,224.59 L404.46,224.59 L405.16,224.6 L405.87,224.6 L406.57,224.6 L407.27,224.6 L407.98,224.6 L408.68,224.6 L409.39,224.6 L410.09,224.6 L410.79,224.6 L411.5,224.6 L412.2,224.6 L412.9,224.6 L413.61,224.6 L414.31,224.6 L415.02,224.6 L415.72,224.6 L416.42,224.6 L417.13,224.6 L417.83,224.6 L418.53,224.6 L419.24,224.6 L419.94,224.6 L420.65,224.6 L421.35,224.6 L422.05,224.6 L422.76,224.6 L423.46,224.6 L424.16,224.6 L424.87,224.6 L425.57,224.6 L426.28,224.6 L426.98,224.6 L427.68,224.6 L428.39,224.6 L429.09,224.6 L429.79,224.6 L430.5,224.6 L431.2,224.6 L431.91,224.6 L432.61,224.6 L433.31,224.6 L434.02,224.6 L434.72,224.6 L435.43,224.6 L436.13,224.6 L436.83,224.6 L437.54,224.6 L438.24,224.6 L438.94,224.6 L439.65,224.6 L440.35,224.6 L441.06,224.6 L441.76,224.6 L442.46,224.6 L443.17,224.6 L443.87,224.6 L444.57,224.6 L445.28,224.6 L445.98,224.6 L446.69,224.6 L447.39,224.6 L448.09,224.6 L448.8,224.6 L449.5,224.6" stroke="#f07272" stroke-width="1.1" fill="none" stroke-dasharray="2.4 1.9" stroke-linejoin="round"/>
<path d="M336.9,243 L337.6,243 L338.31,243 L339.01,243 L339.71,243 L340.42,243 L341.12,243 L341.83,243 L342.53,243 L343.23,243 L343.94,243 L344.64,243 L345.34,243 L346.05,243 L346.75,243 L347.46,243 L348.16,243 L348.86,243 L349.57,243 L350.27,243 L350.97,243 L351.68,243 L352.38,243 L353.09,243 L353.79,243 L354.49,243 L355.2,243 L355.9,243 L356.6,243 L357.31,243 L358.01,243 L358.72,243 L359.42,243 L360.12,243 L360.83,243 L361.53,243 L362.23,243 L362.94,243 L363.64,243 L364.35,243 L365.05,243 L365.75,243 L366.46,243 L367.16,243 L367.87,243 L368.57,243 L369.27,243 L369.98,243 L370.68,243 L371.38,243 L372.09,243 L372.79,243 L373.5,243 L374.2,243 L374.9,243 L375.61,243 L376.31,243 L377.01,243 L377.72,243 L378.42,242.99 L379.12,242.98 L379.83,242.96 L380.53,242.91 L381.24,242.81 L381.94,242.62 L382.64,242.28 L383.35,241.72 L384.05,240.85 L384.75,239.6 L385.46,237.92 L386.16,235.85 L386.87,233.51 L387.57,231.12 L388.27,228.99 L388.98,227.41 L389.68,226.65 L390.38,226.78 L391.09,227.63 L391.79,229.09 L392.5,230.97 L393.2,233.05 L393.9,235.14 L394.61,237.07 L395.31,238.72 L396.01,240.05 L396.72,241.06 L397.42,241.78 L398.13,242.27 L398.83,242.58 L399.53,242.77 L400.24,242.88 L400.94,242.94 L401.64,242.97 L402.35,242.99 L403.05,242.99 L403.76,243 L404.46,243 L405.16,243 L405.87,243 L406.57,243 L407.27,243 L407.98,243 L408.68,243 L409.39,243 L410.09,243 L410.79,243 L411.5,243 L412.2,243 L412.9,243 L413.61,243 L414.31,243 L415.02,243 L415.72,243 L416.42,243 L417.13,243 L417.83,243 L418.53,243 L419.24,243 L419.94,243 L420.65,243 L421.35,243 L422.05,243 L422.76,243 L423.46,243 L424.16,243 L424.87,243 L425.57,243 L426.28,243 L426.98,243 L427.68,243 L428.39,243 L429.09,243 L429.79,243 L430.5,243 L431.2,243 L431.91,243 L432.61,243 L433.31,243 L434.02,243 L434.72,243 L435.43,243 L436.13,243 L436.83,243 L437.54,243 L438.24,243 L438.94,243 L439.65,243 L440.35,243 L441.06,243 L441.76,243 L442.46,243 L443.17,243 L443.87,243 L444.57,243 L445.28,243 L445.98,243 L446.69,243 L447.39,243 L448.09,243 L448.8,243 L449.5,243" stroke="#f9c6a8" stroke-width="1.8" fill="none" stroke-dasharray="2.0 2.3" stroke-linejoin="round"/>
<path d="M336.9,261 L337.6,261 L338.31,261 L339.01,261 L339.71,261 L340.42,261 L341.12,261 L341.83,261 L342.53,261 L343.23,261 L343.94,261 L344.64,261 L345.34,261 L346.05,261 L346.75,261 L347.46,261 L348.16,261 L348.86,261 L349.57,261 L350.27,261 L350.97,261 L351.68,261 L352.38,261 L353.09,261 L353.79,261 L354.49,261 L355.2,261 L355.9,261 L356.6,261 L357.31,261 L358.01,261 L358.72,261 L359.42,261 L360.12,261 L360.83,261 L361.53,261 L362.23,261 L362.94,261 L363.64,261 L364.35,261 L365.05,261 L365.75,261 L366.46,261 L367.16,261 L367.87,261 L368.57,261 L369.27,261 L369.98,261 L370.68,261 L371.38,261 L372.09,261 L372.79,261 L373.5,261 L374.2,261 L374.9,261 L375.61,261 L376.31,261 L377.01,261 L377.72,261 L378.42,261 L379.12,261 L379.83,261 L380.53,261 L381.24,261 L381.94,261 L382.64,261 L383.35,261 L384.05,261 L384.75,260.99 L385.46,260.97 L386.16,260.93 L386.87,260.86 L387.57,260.72 L388.27,260.49 L388.98,260.12 L389.68,259.6 L390.38,258.9 L391.09,258.07 L391.79,257.17 L392.5,256.33 L393.2,255.68 L393.9,255.33 L394.61,255.31 L395.31,255.4 L396.01,255.56 L396.72,255.77 L397.42,256.01 L398.13,256.26 L398.83,256.53 L399.53,256.79 L400.24,257.05 L400.94,257.3 L401.64,257.53 L402.35,257.76 L403.05,257.98 L403.76,258.18 L404.46,258.37 L405.16,258.55 L405.87,258.71 L406.57,258.87 L407.27,259.02 L407.98,259.16 L408.68,259.28 L409.39,259.63 L410.09,260.08 L410.79,260.43 L411.5,260.7 L412.2,260.89 L412.9,261 L413.61,261 L414.31,261 L415.02,261 L415.72,261 L416.42,261 L417.13,261 L417.83,261 L418.53,261 L419.24,261 L419.94,261 L420.65,261 L421.35,261 L422.05,261 L422.76,261 L423.46,261 L424.16,261 L424.87,261 L425.57,261 L426.28,261 L426.98,261 L427.68,261 L428.39,261 L429.09,261 L429.79,261 L430.5,261 L431.2,261 L431.91,261 L432.61,261 L433.31,261 L434.02,261 L434.72,261 L435.43,261 L436.13,261 L436.83,261 L437.54,261 L438.24,261 L438.94,261 L439.65,261 L440.35,261 L441.06,261 L441.76,261 L442.46,261 L443.17,261 L443.87,261 L444.57,261 L445.28,261 L445.98,261 L446.69,261 L447.39,261 L448.09,261 L448.8,261 L449.5,261" stroke="#5f72cc" stroke-width="0.95" fill="none"  stroke-linejoin="round"/>
<path d="M336.9,279.4 L337.6,279.4 L338.31,279.4 L339.01,279.4 L339.71,279.4 L340.42,279.4 L341.12,279.4 L341.83,279.4 L342.53,279.4 L343.23,279.4 L343.94,279.4 L344.64,279.4 L345.34,279.4 L346.05,279.4 L346.75,279.4 L347.46,279.4 L348.16,279.4 L348.86,279.4 L349.57,279.4 L350.27,279.4 L350.97,279.4 L351.68,279.4 L352.38,279.4 L353.09,279.4 L353.79,279.4 L354.49,279.4 L355.2,279.4 L355.9,279.4 L356.6,279.4 L357.31,279.4 L358.01,279.4 L358.72,279.4 L359.42,279.4 L360.12,279.4 L360.83,279.4 L361.53,279.4 L362.23,279.4 L362.94,279.4 L363.64,279.4 L364.35,279.4 L365.05,279.4 L365.75,279.4 L366.46,279.4 L367.16,279.4 L367.87,279.4 L368.57,279.4 L369.27,279.4 L369.98,279.4 L370.68,279.4 L371.38,279.4 L372.09,279.4 L372.79,279.4 L373.5,279.4 L374.2,279.4 L374.9,279.4 L375.61,279.4 L376.31,279.4 L377.01,279.4 L377.72,279.4 L378.42,279.4 L379.12,279.4 L379.83,279.4 L380.53,279.4 L381.24,279.4 L381.94,279.39 L382.64,279.39 L383.35,279.37 L384.05,279.34 L384.75,279.27 L385.46,279.15 L386.16,278.94 L386.87,278.6 L387.57,278.1 L388.27,277.38 L388.98,276.45 L389.68,275.31 L390.38,274.03 L391.09,272.74 L391.79,271.58 L392.5,270.7 L393.2,270.25 L393.9,270.33 L394.61,270.91 L395.31,271.63 L396.01,272.33 L396.72,272.98 L397.42,273.58 L398.13,274.13 L398.83,274.62 L399.53,275.08 L400.24,275.49 L400.94,275.86 L401.64,276.2 L402.35,276.5 L403.05,276.78 L403.76,277.03 L404.46,277.25 L405.16,277.46 L405.87,277.64 L406.57,277.81 L407.27,277.96 L407.98,278.1 L408.68,278.3 L409.39,278.67 L410.09,278.95 L410.79,279.16 L411.5,279.3 L412.2,279.39 L412.9,279.4 L413.61,279.4 L414.31,279.4 L415.02,279.4 L415.72,279.4 L416.42,279.4 L417.13,279.4 L417.83,279.4 L418.53,279.4 L419.24,279.4 L419.94,279.4 L420.65,279.4 L421.35,279.4 L422.05,279.4 L422.76,279.4 L423.46,279.4 L424.16,279.4 L424.87,279.4 L425.57,279.4 L426.28,279.4 L426.98,279.4 L427.68,279.4 L428.39,279.4 L429.09,279.4 L429.79,279.4 L430.5,279.4 L431.2,279.4 L431.91,279.4 L432.61,279.4 L433.31,279.4 L434.02,279.4 L434.72,279.4 L435.43,279.4 L436.13,279.4 L436.83,279.4 L437.54,279.4 L438.24,279.4 L438.94,279.4 L439.65,279.4 L440.35,279.4 L441.06,279.4 L441.76,279.4 L442.46,279.4 L443.17,279.4 L443.87,279.4 L444.57,279.4 L445.28,279.4 L445.98,279.4 L446.69,279.4 L447.39,279.4 L448.09,279.4 L448.8,279.4 L449.5,279.4" stroke="#f04c4c" stroke-width="0.95" fill="none"  stroke-linejoin="round"/>
<path d="M336.9,297.7 L337.6,297.7 L338.31,297.7 L339.01,297.7 L339.71,297.7 L340.42,297.7 L341.12,297.7 L341.83,297.7 L342.53,297.7 L343.23,297.7 L343.94,297.7 L344.64,297.7 L345.34,297.7 L346.05,297.7 L346.75,297.7 L347.46,297.7 L348.16,297.7 L348.86,297.7 L349.57,297.7 L350.27,297.7 L350.97,297.7 L351.68,297.7 L352.38,297.7 L353.09,297.7 L353.79,297.7 L354.49,297.7 L355.2,297.7 L355.9,297.7 L356.6,297.7 L357.31,297.7 L358.01,297.7 L358.72,297.7 L359.42,297.7 L360.12,297.7 L360.83,297.7 L361.53,297.7 L362.23,297.7 L362.94,297.7 L363.64,297.7 L364.35,297.7 L365.05,297.7 L365.75,297.7 L366.46,297.7 L367.16,297.7 L367.87,297.7 L368.57,297.7 L369.27,297.7 L369.98,297.7 L370.68,297.7 L371.38,297.7 L372.09,297.7 L372.79,297.7 L373.5,297.7 L374.2,297.7 L374.9,297.7 L375.61,297.7 L376.31,297.7 L377.01,297.7 L377.72,297.7 L378.42,297.7 L379.12,297.7 L379.83,297.7 L380.53,297.7 L381.24,297.7 L381.94,297.7 L382.64,297.69 L383.35,297.68 L384.05,297.65 L384.75,297.58 L385.46,297.41 L386.16,297.06 L386.87,296.41 L387.57,295.34 L388.27,293.71 L388.98,291.53 L389.68,288.94 L390.38,286.28 L391.09,284.05 L391.79,282.72 L392.5,282.71 L393.2,283.9 L393.9,285.17 L394.61,286.34 L395.31,287.42 L396.01,288.4 L396.72,289.28 L397.42,290.08 L398.13,290.81 L398.83,291.47 L399.53,292.06 L400.24,292.6 L400.94,293.09 L401.64,293.53 L402.35,293.93 L403.05,294.29 L403.76,294.61 L404.46,294.91 L405.16,295.18 L405.87,295.42 L406.57,295.64 L407.27,295.83 L407.98,296.01 L408.68,296.17 L409.39,296.51 L410.09,296.93 L410.79,297.24 L411.5,297.46 L412.2,297.62 L412.9,297.7 L413.61,297.7 L414.31,297.7 L415.02,297.7 L415.72,297.7 L416.42,297.7 L417.13,297.7 L417.83,297.7 L418.53,297.7 L419.24,297.7 L419.94,297.7 L420.65,297.7 L421.35,297.7 L422.05,297.7 L422.76,297.7 L423.46,297.7 L424.16,297.7 L424.87,297.7 L425.57,297.7 L426.28,297.7 L426.98,297.7 L427.68,297.7 L428.39,297.7 L429.09,297.7 L429.79,297.7 L430.5,297.7 L431.2,297.7 L431.91,297.7 L432.61,297.7 L433.31,297.7 L434.02,297.7 L434.72,297.7 L435.43,297.7 L436.13,297.7 L436.83,297.7 L437.54,297.7 L438.24,297.7 L438.94,297.7 L439.65,297.7 L440.35,297.7 L441.06,297.7 L441.76,297.7 L442.46,297.7 L443.17,297.7 L443.87,297.7 L444.57,297.7 L445.28,297.7 L445.98,297.7 L446.69,297.7 L447.39,297.7 L448.09,297.7 L448.8,297.7 L449.5,297.7" stroke="#f7904e" stroke-width="0.95" fill="none"  stroke-linejoin="round"/>
<path d="M336.4,297.4 L336.4,186.4 L449.5,186.4 L449.5,297.4" stroke="#6a6a6a" stroke-width="1.1" fill="none"/>
<line x1="336.4" y1="297.4" x2="449.5" y2="297.4" stroke="#555" stroke-width="1" />
<line x1="367.6" y1="297.4" x2="367.6" y2="300" stroke="#888" stroke-width="0.9" />
<line x1="385.9" y1="297.4" x2="385.9" y2="300" stroke="#888" stroke-width="0.9" />
<line x1="401.5" y1="297.4" x2="401.5" y2="300" stroke="#888" stroke-width="0.9" />
<line x1="417.1" y1="297.4" x2="417.1" y2="300" stroke="#888" stroke-width="0.9" />
<line x1="432.6" y1="297.4" x2="432.6" y2="300" stroke="#888" stroke-width="0.9" />
<line x1="448.2" y1="297.4" x2="448.2" y2="300" stroke="#888" stroke-width="0.9" />
<line x1="373.11" y1="297.4" x2="373.11" y2="299.2" stroke="#aaa" stroke-width="0.7" />
<line x1="376.33" y1="297.4" x2="376.33" y2="299.2" stroke="#aaa" stroke-width="0.7" />
<line x1="378.62" y1="297.4" x2="378.62" y2="299.2" stroke="#aaa" stroke-width="0.7" />
<line x1="380.39" y1="297.4" x2="380.39" y2="299.2" stroke="#aaa" stroke-width="0.7" />
<line x1="381.84" y1="297.4" x2="381.84" y2="299.2" stroke="#aaa" stroke-width="0.7" />
<line x1="383.07" y1="297.4" x2="383.07" y2="299.2" stroke="#aaa" stroke-width="0.7" />
<line x1="384.13" y1="297.4" x2="384.13" y2="299.2" stroke="#aaa" stroke-width="0.7" />
<line x1="385.06" y1="297.4" x2="385.06" y2="299.2" stroke="#aaa" stroke-width="0.7" />
<line x1="390.6" y1="297.4" x2="390.6" y2="299.2" stroke="#aaa" stroke-width="0.7" />
<line x1="393.34" y1="297.4" x2="393.34" y2="299.2" stroke="#aaa" stroke-width="0.7" />
<line x1="395.29" y1="297.4" x2="395.29" y2="299.2" stroke="#aaa" stroke-width="0.7" />
<line x1="396.8" y1="297.4" x2="396.8" y2="299.2" stroke="#aaa" stroke-width="0.7" />
<line x1="398.04" y1="297.4" x2="398.04" y2="299.2" stroke="#aaa" stroke-width="0.7" />
<line x1="399.08" y1="297.4" x2="399.08" y2="299.2" stroke="#aaa" stroke-width="0.7" />
<line x1="399.99" y1="297.4" x2="399.99" y2="299.2" stroke="#aaa" stroke-width="0.7" />
<line x1="400.79" y1="297.4" x2="400.79" y2="299.2" stroke="#aaa" stroke-width="0.7" />
<line x1="406.2" y1="297.4" x2="406.2" y2="299.2" stroke="#aaa" stroke-width="0.7" />
<line x1="408.94" y1="297.4" x2="408.94" y2="299.2" stroke="#aaa" stroke-width="0.7" />
<line x1="410.89" y1="297.4" x2="410.89" y2="299.2" stroke="#aaa" stroke-width="0.7" />
<line x1="412.4" y1="297.4" x2="412.4" y2="299.2" stroke="#aaa" stroke-width="0.7" />
<line x1="413.64" y1="297.4" x2="413.64" y2="299.2" stroke="#aaa" stroke-width="0.7" />
<line x1="414.68" y1="297.4" x2="414.68" y2="299.2" stroke="#aaa" stroke-width="0.7" />
<line x1="415.59" y1="297.4" x2="415.59" y2="299.2" stroke="#aaa" stroke-width="0.7" />
<line x1="416.39" y1="297.4" x2="416.39" y2="299.2" stroke="#aaa" stroke-width="0.7" />
<line x1="421.77" y1="297.4" x2="421.77" y2="299.2" stroke="#aaa" stroke-width="0.7" />
<line x1="424.5" y1="297.4" x2="424.5" y2="299.2" stroke="#aaa" stroke-width="0.7" />
<line x1="426.43" y1="297.4" x2="426.43" y2="299.2" stroke="#aaa" stroke-width="0.7" />
<line x1="427.93" y1="297.4" x2="427.93" y2="299.2" stroke="#aaa" stroke-width="0.7" />
<line x1="429.16" y1="297.4" x2="429.16" y2="299.2" stroke="#aaa" stroke-width="0.7" />
<line x1="430.2" y1="297.4" x2="430.2" y2="299.2" stroke="#aaa" stroke-width="0.7" />
<line x1="431.1" y1="297.4" x2="431.1" y2="299.2" stroke="#aaa" stroke-width="0.7" />
<line x1="431.89" y1="297.4" x2="431.89" y2="299.2" stroke="#aaa" stroke-width="0.7" />
<line x1="437.3" y1="297.4" x2="437.3" y2="299.2" stroke="#aaa" stroke-width="0.7" />
<line x1="440.04" y1="297.4" x2="440.04" y2="299.2" stroke="#aaa" stroke-width="0.7" />
<line x1="441.99" y1="297.4" x2="441.99" y2="299.2" stroke="#aaa" stroke-width="0.7" />
<line x1="443.5" y1="297.4" x2="443.5" y2="299.2" stroke="#aaa" stroke-width="0.7" />
<line x1="444.74" y1="297.4" x2="444.74" y2="299.2" stroke="#aaa" stroke-width="0.7" />
<line x1="445.78" y1="297.4" x2="445.78" y2="299.2" stroke="#aaa" stroke-width="0.7" />
<line x1="446.69" y1="297.4" x2="446.69" y2="299.2" stroke="#aaa" stroke-width="0.7" />
<line x1="447.49" y1="297.4" x2="447.49" y2="299.2" stroke="#aaa" stroke-width="0.7" />
<rect x="347.5" y="297.4" width="5" height="2.4" fill="#333"/>
<line x1="337.9" y1="297.4" x2="337.9" y2="299.2" stroke="#aaa" stroke-width="0.7" />
<line x1="339.8" y1="297.4" x2="339.8" y2="299.2" stroke="#aaa" stroke-width="0.7" />
<line x1="342.5" y1="297.4" x2="342.5" y2="299.2" stroke="#aaa" stroke-width="0.7" />
<line x1="345" y1="297.4" x2="345" y2="299.2" stroke="#aaa" stroke-width="0.7" />
<line x1="355.5" y1="297.4" x2="355.5" y2="299.2" stroke="#aaa" stroke-width="0.7" />
<line x1="357.5" y1="297.4" x2="357.5" y2="299.2" stroke="#aaa" stroke-width="0.7" />
<line x1="360" y1="297.4" x2="360" y2="299.2" stroke="#aaa" stroke-width="0.7" />
<line x1="362.5" y1="297.4" x2="362.5" y2="299.2" stroke="#aaa" stroke-width="0.7" />
<line x1="364.5" y1="297.4" x2="364.5" y2="299.2" stroke="#aaa" stroke-width="0.7" />
<line x1="366" y1="297.4" x2="366" y2="299.2" stroke="#aaa" stroke-width="0.7" />
<text x="349.7" y="308.8" font-family="Liberation Serif" font-size="5.3" font-weight="normal" text-anchor="middle" fill="#222" >0</text>
<text x="380.6" y="308.8" font-family="Liberation Serif" font-size="5.3" font-weight="normal" text-anchor="start" fill="#222" >10</text>
<text x="385.9" y="306.1" font-family="Liberation Serif" font-size="4" font-weight="normal" text-anchor="start" fill="#222" >4</text>
<text x="410.8" y="308.8" font-family="Liberation Serif" font-size="5.3" font-weight="normal" text-anchor="start" fill="#222" >10</text>
<text x="416.1" y="306.1" font-family="Liberation Serif" font-size="4" font-weight="normal" text-anchor="start" fill="#222" >6</text>
<text x="439.6" y="308.8" font-family="Liberation Serif" font-size="5.3" font-weight="normal" text-anchor="start" fill="#222" >10</text>
<text x="444.9" y="306.1" font-family="Liberation Serif" font-size="4" font-weight="normal" text-anchor="start" fill="#222" >8</text>
<text x="337.46" y="319.12" font-family="Liberation Serif" font-size="10.88" font-weight="bold" text-anchor="start" fill="#111111" stroke="#111111" stroke-width="0.25" >CD86</text>
<line x1="369.4" y1="316" x2="440.5" y2="316" stroke="#9a9a9a" stroke-width="1.6" />
<path d="M444.5,316 L439.1,313.3 L439.9,316 L439.1,318.7 Z" fill="#111"/>
<text x="452.04" y="44.66" font-family="Liberation Serif" font-size="9.68" font-weight="bold" text-anchor="start" fill="#111111" stroke="#111111" stroke-width="0.25" >DMSO</text>
<text x="452.52" y="62.38" font-family="Liberation Serif" font-size="9.75" font-weight="bold" text-anchor="start" fill="#111111" stroke="#111111" stroke-width="0.25" >CAR 5 μg/mL</text>
<text x="452.2" y="80.46" font-family="Liberation Serif" font-size="9.88" font-weight="bold" text-anchor="start" fill="#111111" stroke="#111111" stroke-width="0.25" >CAR 10 μg/mL</text>
<text x="452.04" y="100.16" font-family="Liberation Serif" font-size="9.68" font-weight="bold" text-anchor="start" fill="#111111" stroke="#111111" stroke-width="0.25" >DMSO</text>
<text x="452.52" y="117.62" font-family="Liberation Serif" font-size="9.75" font-weight="bold" text-anchor="start" fill="#111111" stroke="#111111" stroke-width="0.25" >CAR 5 μg/mL</text>
<text x="452.2" y="135.8" font-family="Liberation Serif" font-size="9.88" font-weight="bold" text-anchor="start" fill="#111111" stroke="#111111" stroke-width="0.25" >CAR 10 μg/mL</text>
<path d="M519.4,36.3 Q521,36.3 521,38.3 L521,55 Q521,57 522.6,57 Q521,57 521,59 L521,75.7 Q521,77.7 519.4,77.7" stroke="#222" stroke-width="1.05" fill="none" />
<text x="525.98" y="61.2" font-family="Liberation Serif" font-size="10.84" font-weight="bold" text-anchor="start" fill="#111111" stroke="#111111" stroke-width="0.25" >PBS</text>
<path d="M519.4,92.3 Q521,92.3 521,94.3 L521,110.4 Q521,112.4 522.6,112.4 Q521,112.4 521,114.4 L521,131.5 Q521,133.5 519.4,133.5" stroke="#222" stroke-width="1.05" fill="none" />
<text x="526.46" y="117.12" font-family="Liberation Serif" font-size="10.49" font-weight="bold" text-anchor="start" fill="#111111" stroke="#111111" stroke-width="0.25" >LPS</text>
<text x="452.04" y="209.04" font-family="Liberation Serif" font-size="9.68" font-weight="bold" text-anchor="start" fill="#111111" stroke="#111111" stroke-width="0.25" >DMSO</text>
<text x="452.52" y="227.08" font-family="Liberation Serif" font-size="9.75" font-weight="bold" text-anchor="start" fill="#111111" stroke="#111111" stroke-width="0.25" >CAR 5 μg/mL</text>
<text x="452.2" y="245.46" font-family="Liberation Serif" font-size="9.88" font-weight="bold" text-anchor="start" fill="#111111" stroke="#111111" stroke-width="0.25" >CAR 10 μg/mL</text>
<text x="452.04" y="263.44" font-family="Liberation Serif" font-size="9.68" font-weight="bold" text-anchor="start" fill="#111111" stroke="#111111" stroke-width="0.25" >DMSO</text>
<text x="452.52" y="281.22" font-family="Liberation Serif" font-size="9.75" font-weight="bold" text-anchor="start" fill="#111111" stroke="#111111" stroke-width="0.25" >CAR 5 μg/mL</text>
<text x="452.2" y="299.46" font-family="Liberation Serif" font-size="9.88" font-weight="bold" text-anchor="start" fill="#111111" stroke="#111111" stroke-width="0.25" >CAR 10 μg/mL</text>
<path d="M519.4,200.8 Q521,200.8 521,202.8 L521,219.6 Q521,221.6 522.6,221.6 Q521,221.6 521,223.6 L521,240 Q521,242 519.4,242" stroke="#222" stroke-width="1.05" fill="none" />
<text x="527.66" y="225.7" font-family="Liberation Serif" font-size="11.22" font-weight="bold" text-anchor="start" fill="#111111" stroke="#111111" stroke-width="0.25" >PBS</text>
<path d="M519.4,257.2 Q521,257.2 521,259.2 L521,275.4 Q521,277.4 522.6,277.4 Q521,277.4 521,279.4 L521,296.2 Q521,298.2 519.4,298.2" stroke="#222" stroke-width="1.05" fill="none" />
<text x="527.66" y="281.3" font-family="Liberation Serif" font-size="11.22" font-weight="bold" text-anchor="start" fill="#111111" stroke="#111111" stroke-width="0.25" >LPS</text>
<rect x="595.2" y="114.88" width="12.6" height="3.52" fill="#ffffff" stroke="#4a4a4a" stroke-width="1"/>
<rect x="613.7" y="114.88" width="12.8" height="3.52" fill="#86888b" stroke="#4a4a4a" stroke-width="1"/>
<rect x="632.3" y="114.88" width="12.6" height="3.52" fill="#141616" stroke="#4a4a4a" stroke-width="1"/>
<line x1="669.6" y1="42.19" x2="669.6" y2="40.96" stroke="#4a4a4a" stroke-width="1" />
<line x1="666.31" y1="40.96" x2="672.89" y2="40.96" stroke="#4a4a4a" stroke-width="1" />
<rect x="663.4" y="42.19" width="12.4" height="76.21" fill="#ffffff" stroke="#4a4a4a" stroke-width="1"/>
<line x1="687.75" y1="50.64" x2="687.75" y2="49.94" stroke="#4a4a4a" stroke-width="1" />
<line x1="684.44" y1="49.94" x2="691.06" y2="49.94" stroke="#4a4a4a" stroke-width="1" />
<rect x="681.5" y="50.64" width="12.5" height="67.76" fill="#86888b" stroke="#4a4a4a" stroke-width="1"/>
<line x1="706.3" y1="63.22" x2="706.3" y2="62.52" stroke="#4a4a4a" stroke-width="1" />
<line x1="702.96" y1="62.52" x2="709.64" y2="62.52" stroke="#4a4a4a" stroke-width="1" />
<rect x="700" y="63.22" width="12.6" height="55.18" fill="#141616" stroke="#4a4a4a" stroke-width="1"/>
<line x1="586.3" y1="118.4" x2="586.3" y2="30.4" stroke="#5a5a5a" stroke-width="1" />
<line x1="586.3" y1="118.4" x2="721.5" y2="118.4" stroke="#5a5a5a" stroke-width="1" />
<line x1="582.7" y1="118.4" x2="586.3" y2="118.4" stroke="#5a5a5a" stroke-width="1" />
<text x="582.6" y="120.88" font-family="Liberation Serif" font-size="7.5" font-weight="bold" text-anchor="end" fill="#222" stroke="#222" stroke-width="0.25" >0</text>
<line x1="582.7" y1="100.8" x2="586.3" y2="100.8" stroke="#5a5a5a" stroke-width="1" />
<text x="582.6" y="103.28" font-family="Liberation Serif" font-size="7.5" font-weight="bold" text-anchor="end" fill="#222" stroke="#222" stroke-width="0.25" >20</text>
<line x1="582.7" y1="83.2" x2="586.3" y2="83.2" stroke="#5a5a5a" stroke-width="1" />
<text x="582.6" y="85.67" font-family="Liberation Serif" font-size="7.5" font-weight="bold" text-anchor="end" fill="#222" stroke="#222" stroke-width="0.25" >40</text>
<line x1="582.7" y1="65.6" x2="586.3" y2="65.6" stroke="#5a5a5a" stroke-width="1" />
<text x="582.6" y="68.08" font-family="Liberation Serif" font-size="7.5" font-weight="bold" text-anchor="end" fill="#222" stroke="#222" stroke-width="0.25" >60</text>
<line x1="582.7" y1="48" x2="586.3" y2="48" stroke="#5a5a5a" stroke-width="1" />
<text x="582.6" y="50.48" font-family="Liberation Serif" font-size="7.5" font-weight="bold" text-anchor="end" fill="#222" stroke="#222" stroke-width="0.25" >80</text>
<line x1="582.7" y1="30.4" x2="586.3" y2="30.4" stroke="#5a5a5a" stroke-width="1" />
<text x="582.6" y="32.88" font-family="Liberation Serif" font-size="7.5" font-weight="bold" text-anchor="end" fill="#222" stroke="#222" stroke-width="0.25" >100</text>
<line x1="619.8" y1="118.4" x2="619.8" y2="121.4" stroke="#5a5a5a" stroke-width="1" />
<line x1="687" y1="118.4" x2="687" y2="121.4" stroke="#5a5a5a" stroke-width="1" />
<text x="622.86" y="129.82" font-family="Liberation Serif" font-size="8.35" font-weight="bold" text-anchor="end" fill="#111111" stroke="#111111" stroke-width="0.25" transform="rotate(-45 622.86 129.82)" >PBS</text>
<text x="692.2" y="127.42" font-family="Liberation Serif" font-size="9.29" font-weight="bold" text-anchor="end" fill="#111111" stroke="#111111" stroke-width="0.25" transform="rotate(-45 692.2 127.42)" >LPS</text>
<line x1="669.1" y1="36.4" x2="689" y2="36.4" stroke="#555" stroke-width="1" />
<polygon points="674.19,29.03 674.8,30.49 676.37,30.62 675.17,31.65 675.54,33.19 674.19,32.37 672.84,33.19 673.2,31.65 672,30.62 673.58,30.49" fill="#404040" stroke="#404040" stroke-width="0.35" stroke-linejoin="round"/>
<polygon points="680,29.03 680.61,30.49 682.19,30.62 680.98,31.65 681.35,33.19 680,32.37 678.65,33.19 679.02,31.65 677.81,30.62 679.39,30.49" fill="#404040" stroke="#404040" stroke-width="0.35" stroke-linejoin="round"/>
<polygon points="685.81,29.03 686.42,30.49 688,30.62 686.8,31.65 687.16,33.19 685.81,32.37 684.46,33.19 684.83,31.65 683.63,30.62 685.2,30.49" fill="#404040" stroke="#404040" stroke-width="0.35" stroke-linejoin="round"/>
<line x1="669.1" y1="24.4" x2="705.7" y2="24.4" stroke="#555" stroke-width="1" />
<polygon points="679.79,17.33 680.4,18.79 681.97,18.92 680.77,19.95 681.14,21.49 679.79,20.66 678.44,21.49 678.8,19.95 677.6,18.92 679.18,18.79" fill="#404040" stroke="#404040" stroke-width="0.35" stroke-linejoin="round"/>
<polygon points="685.53,17.33 686.14,18.79 687.72,18.92 686.51,19.95 686.88,21.49 685.53,20.66 684.18,21.49 684.54,19.95 683.34,18.92 684.92,18.79" fill="#404040" stroke="#404040" stroke-width="0.35" stroke-linejoin="round"/>
<polygon points="691.27,17.33 691.88,18.79 693.46,18.92 692.26,19.95 692.62,21.49 691.27,20.66 689.92,21.49 690.29,19.95 689.08,18.92 690.66,18.79" fill="#404040" stroke="#404040" stroke-width="0.35" stroke-linejoin="round"/>
<polygon points="697.01,17.33 697.62,18.79 699.2,18.92 698,19.95 698.36,21.49 697.01,20.66 695.66,21.49 696.03,19.95 694.83,18.92 696.4,18.79" fill="#404040" stroke="#404040" stroke-width="0.35" stroke-linejoin="round"/>
<text x="568.84" y="71.86" font-family="Liberation Serif" font-size="9.32" font-weight="bold" text-anchor="middle" fill="#111111" stroke="#111111" stroke-width="0.25" transform="rotate(-90 568.84 71.86)" >CD40 MFI (x10<tspan font-size="5" dy="-3">4</tspan><tspan dy="3">)</tspan></text>
<rect x="736.2" y="33.8" width="10.4" height="5.4" fill="#ffffff" stroke="#555" stroke-width="1"/>
<text x="750.52" y="40.32" font-family="Liberation Serif" font-size="9.85" font-weight="bold" text-anchor="start" fill="#111111" stroke="#111111" stroke-width="0.25" >DMSO</text>
<rect x="736.2" y="47.4" width="10.4" height="5.4" fill="#86888b" stroke="#555" stroke-width="1"/>
<text x="749.48" y="55.2" font-family="Liberation Serif" font-size="10.03" font-weight="bold" text-anchor="start" fill="#111111" stroke="#111111" stroke-width="0.25" >5 μg/mL</text>
<rect x="736.2" y="60.5" width="10.4" height="5.4" fill="#141616" stroke="#555" stroke-width="1"/>
<text x="748.68" y="67.4" font-family="Liberation Serif" font-size="9.97" font-weight="bold" text-anchor="start" fill="#111111" stroke="#111111" stroke-width="0.25" >10 μg/mL</text>
<rect x="597.4" y="271.91" width="13.4" height="18.49" fill="#ffffff" stroke="#4a4a4a" stroke-width="1"/>
<rect x="617.2" y="270.56" width="12.6" height="19.84" fill="#86888b" stroke="#4a4a4a" stroke-width="1"/>
<rect x="636.3" y="268.3" width="13.1" height="22.1" fill="#141616" stroke="#4a4a4a" stroke-width="1"/>
<line x1="675.25" y1="220.72" x2="675.25" y2="220.49" stroke="#4a4a4a" stroke-width="1" />
<line x1="671.73" y1="220.49" x2="678.77" y2="220.49" stroke="#4a4a4a" stroke-width="1" />
<rect x="668.6" y="220.72" width="13.3" height="69.68" fill="#ffffff" stroke="#4a4a4a" stroke-width="1"/>
<line x1="694.7" y1="222.52" x2="694.7" y2="218.92" stroke="#4a4a4a" stroke-width="1" />
<line x1="691.25" y1="218.92" x2="698.15" y2="218.92" stroke="#4a4a4a" stroke-width="1" />
<rect x="688.2" y="222.52" width="13" height="67.88" fill="#86888b" stroke="#4a4a4a" stroke-width="1"/>
<line x1="714.2" y1="235.83" x2="714.2" y2="234.48" stroke="#4a4a4a" stroke-width="1" />
<line x1="710.65" y1="234.48" x2="717.75" y2="234.48" stroke="#4a4a4a" stroke-width="1" />
<rect x="707.5" y="235.83" width="13.4" height="54.57" fill="#141616" stroke="#4a4a4a" stroke-width="1"/>
<line x1="587.7" y1="290.4" x2="587.7" y2="200.2" stroke="#5a5a5a" stroke-width="1" />
<line x1="587.7" y1="290.4" x2="730.5" y2="290.4" stroke="#5a5a5a" stroke-width="1" />
<line x1="584.1" y1="290.4" x2="587.7" y2="290.4" stroke="#5a5a5a" stroke-width="1" />
<text x="584" y="292.91" font-family="Liberation Serif" font-size="7.6" font-weight="bold" text-anchor="end" fill="#222" stroke="#222" stroke-width="0.25" >0</text>
<line x1="584.1" y1="267.85" x2="587.7" y2="267.85" stroke="#5a5a5a" stroke-width="1" />
<text x="584" y="270.36" font-family="Liberation Serif" font-size="7.6" font-weight="bold" text-anchor="end" fill="#222" stroke="#222" stroke-width="0.25" >5</text>
<line x1="584.1" y1="245.3" x2="587.7" y2="245.3" stroke="#5a5a5a" stroke-width="1" />
<text x="584" y="247.81" font-family="Liberation Serif" font-size="7.6" font-weight="bold" text-anchor="end" fill="#222" stroke="#222" stroke-width="0.25" >10</text>
<line x1="584.1" y1="222.75" x2="587.7" y2="222.75" stroke="#5a5a5a" stroke-width="1" />
<text x="584" y="225.26" font-family="Liberation Serif" font-size="7.6" font-weight="bold" text-anchor="end" fill="#222" stroke="#222" stroke-width="0.25" >15</text>
<line x1="584.1" y1="200.2" x2="587.7" y2="200.2" stroke="#5a5a5a" stroke-width="1" />
<text x="584" y="202.71" font-family="Liberation Serif" font-size="7.6" font-weight="bold" text-anchor="end" fill="#222" stroke="#222" stroke-width="0.25" >20</text>
<line x1="623.3" y1="290.4" x2="623.3" y2="293.4" stroke="#5a5a5a" stroke-width="1" />
<line x1="694.6" y1="290.4" x2="694.6" y2="293.4" stroke="#5a5a5a" stroke-width="1" />
<text x="627.36" y="300.4" font-family="Liberation Serif" font-size="8.03" font-weight="bold" text-anchor="end" fill="#111111" stroke="#111111" stroke-width="0.25" transform="rotate(-45 627.36 300.4)" >PBS</text>
<text x="699.04" y="299.52" font-family="Liberation Serif" font-size="8.22" font-weight="bold" text-anchor="end" fill="#111111" stroke="#111111" stroke-width="0.25" transform="rotate(-45 699.04 299.52)" >LPS</text>
<line x1="675.5" y1="213.1" x2="696.6" y2="213.1" stroke="#555" stroke-width="1" />
<text x="686.56" y="210.06" font-family="Liberation Serif" font-size="11.63" font-weight="bold" text-anchor="middle" fill="#111111" stroke="#111111" stroke-width="0.25" >ns</text>
<line x1="675.5" y1="201.1" x2="713.6" y2="201.1" stroke="#555" stroke-width="1" />
<polygon points="693.19,193.73 693.8,195.19 695.37,195.32 694.17,196.35 694.54,197.89 693.19,197.06 691.84,197.89 692.2,196.35 691,195.32 692.58,195.19" fill="#404040" stroke="#404040" stroke-width="0.35" stroke-linejoin="round"/>
<polygon points="699.01,193.73 699.62,195.19 701.2,195.32 700,196.35 700.36,197.89 699.01,197.06 697.66,197.89 698.03,196.35 696.83,195.32 698.4,195.19" fill="#404040" stroke="#404040" stroke-width="0.35" stroke-linejoin="round"/>
<text x="571.4" y="244.86" font-family="Liberation Serif" font-size="9.19" font-weight="bold" text-anchor="middle" fill="#111111" stroke="#111111" stroke-width="0.25" transform="rotate(-90 571.4 244.86)" >CD86 MFI (x10<tspan font-size="5" dy="-3">4</tspan><tspan dy="3">)</tspan></text>
<rect x="737" y="203.6" width="10.4" height="5.3" fill="#ffffff" stroke="#555" stroke-width="1"/>
<text x="752.06" y="208.98" font-family="Liberation Serif" font-size="10.05" font-weight="bold" text-anchor="start" fill="#111111" stroke="#111111" stroke-width="0.25" >DMSO</text>
<rect x="737" y="217.5" width="10.4" height="5.3" fill="#86888b" stroke="#555" stroke-width="1"/>
<text x="751.98" y="223.88" font-family="Liberation Serif" font-size="9.47" font-weight="bold" text-anchor="start" fill="#111111" stroke="#111111" stroke-width="0.25" >5 μg/mL</text>
<rect x="737" y="230.7" width="10.4" height="5.3" fill="#141616" stroke="#555" stroke-width="1"/>
<text x="750.86" y="237.34" font-family="Liberation Serif" font-size="9.72" font-weight="bold" text-anchor="start" fill="#111111" stroke="#111111" stroke-width="0.25" >10 μg/mL</text>
<line x1="69.5" y1="218.48" x2="69.5" y2="212.59" stroke="#4a4a4a" stroke-width="1" />
<line x1="65.79" y1="212.59" x2="73.21" y2="212.59" stroke="#4a4a4a" stroke-width="1" />
<rect x="62.5" y="218.48" width="14" height="60.72" fill="#cbcbcb" stroke="#4a4a4a" stroke-width="1"/>
<line x1="91.5" y1="237.25" x2="91.5" y2="235.63" stroke="#4a4a4a" stroke-width="1" />
<line x1="87.63" y1="235.63" x2="95.37" y2="235.63" stroke="#4a4a4a" stroke-width="1" />
<rect x="84.2" y="237.25" width="14.6" height="41.95" fill="#86888b" stroke="#4a4a4a" stroke-width="1"/>
<line x1="113.3" y1="247.18" x2="113.3" y2="245.34" stroke="#4a4a4a" stroke-width="1" />
<line x1="109.43" y1="245.34" x2="117.17" y2="245.34" stroke="#4a4a4a" stroke-width="1" />
<rect x="106" y="247.18" width="14.6" height="32.02" fill="#141616" stroke="#4a4a4a" stroke-width="1"/>
<line x1="36.4" y1="279.2" x2="36.4" y2="190.88" stroke="#5a5a5a" stroke-width="1" />
<line x1="36.4" y1="279.2" x2="124" y2="279.2" stroke="#5a5a5a" stroke-width="1" />
<line x1="33.4" y1="279.2" x2="36.4" y2="279.2" stroke="#5a5a5a" stroke-width="1" />
<text x="33" y="281.58" font-family="Liberation Serif" font-size="7.2" font-weight="bold" text-anchor="end" fill="#222" stroke="#222" stroke-width="0.25" >0</text>
<line x1="33.4" y1="264.48" x2="36.4" y2="264.48" stroke="#5a5a5a" stroke-width="1" />
<text x="33" y="266.86" font-family="Liberation Serif" font-size="7.2" font-weight="bold" text-anchor="end" fill="#222" stroke="#222" stroke-width="0.25" >2</text>
<line x1="33.4" y1="249.76" x2="36.4" y2="249.76" stroke="#5a5a5a" stroke-width="1" />
<text x="33" y="252.14" font-family="Liberation Serif" font-size="7.2" font-weight="bold" text-anchor="end" fill="#222" stroke="#222" stroke-width="0.25" >4</text>
<line x1="33.4" y1="235.04" x2="36.4" y2="235.04" stroke="#5a5a5a" stroke-width="1" />
<text x="33" y="237.42" font-family="Liberation Serif" font-size="7.2" font-weight="bold" text-anchor="end" fill="#222" stroke="#222" stroke-width="0.25" >6</text>
<line x1="33.4" y1="220.32" x2="36.4" y2="220.32" stroke="#5a5a5a" stroke-width="1" />
<text x="33" y="222.7" font-family="Liberation Serif" font-size="7.2" font-weight="bold" text-anchor="end" fill="#222" stroke="#222" stroke-width="0.25" >8</text>
<line x1="33.4" y1="205.6" x2="36.4" y2="205.6" stroke="#5a5a5a" stroke-width="1" />
<text x="33" y="207.98" font-family="Liberation Serif" font-size="7.2" font-weight="bold" text-anchor="end" fill="#222" stroke="#222" stroke-width="0.25" >10</text>
<line x1="33.4" y1="190.88" x2="36.4" y2="190.88" stroke="#5a5a5a" stroke-width="1" />
<text x="33" y="193.26" font-family="Liberation Serif" font-size="7.2" font-weight="bold" text-anchor="end" fill="#222" stroke="#222" stroke-width="0.25" >12</text>
<line x1="47.7" y1="279.2" x2="47.7" y2="282.2" stroke="#5a5a5a" stroke-width="1" />
<line x1="69.4" y1="279.2" x2="69.4" y2="282.2" stroke="#5a5a5a" stroke-width="1" />
<line x1="91.4" y1="279.2" x2="91.4" y2="282.2" stroke="#5a5a5a" stroke-width="1" />
<line x1="113" y1="279.2" x2="113" y2="282.2" stroke="#5a5a5a" stroke-width="1" />
<text x="51.74" y="287.06" font-family="Liberation Serif" font-size="8.81" font-weight="bold" text-anchor="end" fill="#111111" stroke="#111111" stroke-width="0.25" transform="rotate(-45 51.74 287.06)" >DMSO</text>
<text x="73.62" y="287.14" font-family="Liberation Serif" font-size="8.12" font-weight="bold" text-anchor="end" fill="#111111" stroke="#111111" stroke-width="0.25" transform="rotate(-45 73.62 287.14)" >LPS</text>
<text x="97.7" y="285.7" font-family="Liberation Serif" font-size="8.81" font-weight="bold" text-anchor="end" fill="#111111" stroke="#111111" stroke-width="0.25" transform="rotate(-45 97.7 285.7)" >5 μg/mL</text>
<text x="118.34" y="284.9" font-family="Liberation Serif" font-size="9.11" font-weight="bold" text-anchor="end" fill="#111111" stroke="#111111" stroke-width="0.25" transform="rotate(-45 118.34 284.9)" >10 μg/mL</text>
<line x1="71" y1="312.5" x2="93.4" y2="312.5" stroke="#777" stroke-width="1" />
<text x="83.64" y="321.14" font-family="Liberation Serif" font-size="8.57" font-weight="bold" text-anchor="middle" fill="#111111" stroke="#111111" stroke-width="0.25" >LPS + CAR</text>
<line x1="45.5" y1="205.2" x2="67.4" y2="205.2" stroke="#888" stroke-width="1" />
<polygon points="50.19,196.93 50.8,198.39 52.37,198.52 51.17,199.55 51.54,201.09 50.19,200.26 48.84,201.09 49.2,199.55 48,198.52 49.58,198.39" fill="#404040" stroke="#404040" stroke-width="0.35" stroke-linejoin="round"/>
<polygon points="55.65,196.93 56.26,198.39 57.84,198.52 56.63,199.55 57,201.09 55.65,200.26 54.3,201.09 54.67,199.55 53.46,198.52 55.04,198.39" fill="#404040" stroke="#404040" stroke-width="0.35" stroke-linejoin="round"/>
<polygon points="61.11,196.93 61.72,198.39 63.3,198.52 62.1,199.55 62.46,201.09 61.11,200.26 59.76,201.09 60.13,199.55 58.93,198.52 60.5,198.39" fill="#404040" stroke="#404040" stroke-width="0.35" stroke-linejoin="round"/>
<line x1="69.7" y1="205.2" x2="92" y2="205.2" stroke="#888" stroke-width="1" />
<polygon points="81,196.03 81.61,197.49 83.19,197.62 81.98,198.65 82.35,200.19 81,199.36 79.65,200.19 80.02,198.65 78.81,197.62 80.39,197.49" fill="#404040" stroke="#404040" stroke-width="0.35" stroke-linejoin="round"/>
<line x1="72" y1="190.2" x2="114" y2="190.2" stroke="#555" stroke-width="1" />
<polygon points="91.39,182.93 92,184.39 93.57,184.52 92.37,185.55 92.74,187.09 91.39,186.26 90.04,187.09 90.4,185.55 89.2,184.52 90.78,184.39" fill="#404040" stroke="#404040" stroke-width="0.35" stroke-linejoin="round"/>
<polygon points="96.51,182.93 97.12,184.39 98.7,184.52 97.5,185.55 97.86,187.09 96.51,186.26 95.16,187.09 95.53,185.55 94.33,184.52 95.9,184.39" fill="#404040" stroke="#404040" stroke-width="0.35" stroke-linejoin="round"/>
<text x="18.96" y="229.84" font-family="Liberation Serif" font-size="10.27" font-weight="bold" text-anchor="middle" fill="#111111" stroke="#111111" stroke-width="0.25" transform="rotate(-90 18.96 229.84)" >IL-6(ng/ml)</text>
<line x1="206.6" y1="218.03" x2="206.6" y2="215.38" stroke="#4a4a4a" stroke-width="1" />
<line x1="202.78" y1="215.38" x2="210.42" y2="215.38" stroke="#4a4a4a" stroke-width="1" />
<rect x="199.4" y="218.03" width="14.4" height="60.67" fill="#cbcbcb" stroke="#4a4a4a" stroke-width="1"/>
<line x1="228.6" y1="215.97" x2="228.6" y2="213.32" stroke="#4a4a4a" stroke-width="1" />
<line x1="224.78" y1="213.32" x2="232.42" y2="213.32" stroke="#4a4a4a" stroke-width="1" />
<rect x="221.4" y="215.97" width="14.4" height="62.73" fill="#86888b" stroke="#4a4a4a" stroke-width="1"/>
<line x1="250.5" y1="219.8" x2="250.5" y2="217.15" stroke="#4a4a4a" stroke-width="1" />
<line x1="246.63" y1="217.15" x2="254.37" y2="217.15" stroke="#4a4a4a" stroke-width="1" />
<rect x="243.2" y="219.8" width="14.6" height="58.9" fill="#141616" stroke="#4a4a4a" stroke-width="1"/>
<line x1="173.5" y1="278.7" x2="173.5" y2="190.35" stroke="#5a5a5a" stroke-width="1" />
<line x1="173.5" y1="278.7" x2="261.4" y2="278.7" stroke="#5a5a5a" stroke-width="1" />
<line x1="170.3" y1="278.7" x2="173.5" y2="278.7" stroke="#5a5a5a" stroke-width="1" />
<text x="170.2" y="281.11" font-family="Liberation Serif" font-size="7.3" font-weight="bold" text-anchor="end" fill="#222" stroke="#222" stroke-width="0.25" >0.0</text>
<line x1="170.3" y1="263.97" x2="173.5" y2="263.97" stroke="#5a5a5a" stroke-width="1" />
<text x="170.2" y="266.38" font-family="Liberation Serif" font-size="7.3" font-weight="bold" text-anchor="end" fill="#222" stroke="#222" stroke-width="0.25" >0.5</text>
<line x1="170.3" y1="249.25" x2="173.5" y2="249.25" stroke="#5a5a5a" stroke-width="1" />
<text x="170.2" y="251.66" font-family="Liberation Serif" font-size="7.3" font-weight="bold" text-anchor="end" fill="#222" stroke="#222" stroke-width="0.25" >1.0</text>
<line x1="170.3" y1="234.52" x2="173.5" y2="234.52" stroke="#5a5a5a" stroke-width="1" />
<text x="170.2" y="236.93" font-family="Liberation Serif" font-size="7.3" font-weight="bold" text-anchor="end" fill="#222" stroke="#222" stroke-width="0.25" >1.5</text>
<line x1="170.3" y1="219.8" x2="173.5" y2="219.8" stroke="#5a5a5a" stroke-width="1" />
<text x="170.2" y="222.21" font-family="Liberation Serif" font-size="7.3" font-weight="bold" text-anchor="end" fill="#222" stroke="#222" stroke-width="0.25" >2.0</text>
<line x1="170.3" y1="205.07" x2="173.5" y2="205.07" stroke="#5a5a5a" stroke-width="1" />
<text x="170.2" y="207.48" font-family="Liberation Serif" font-size="7.3" font-weight="bold" text-anchor="end" fill="#222" stroke="#222" stroke-width="0.25" >2.5</text>
<line x1="170.3" y1="190.35" x2="173.5" y2="190.35" stroke="#5a5a5a" stroke-width="1" />
<text x="170.2" y="192.76" font-family="Liberation Serif" font-size="7.3" font-weight="bold" text-anchor="end" fill="#222" stroke="#222" stroke-width="0.25" >3.0</text>
<line x1="184.3" y1="278.7" x2="184.3" y2="281.7" stroke="#5a5a5a" stroke-width="1" />
<line x1="206.5" y1="278.7" x2="206.5" y2="281.7" stroke="#5a5a5a" stroke-width="1" />
<line x1="228.6" y1="278.7" x2="228.6" y2="281.7" stroke="#5a5a5a" stroke-width="1" />
<line x1="250.6" y1="278.7" x2="250.6" y2="281.7" stroke="#5a5a5a" stroke-width="1" />
<text x="188.72" y="286.58" font-family="Liberation Serif" font-size="9.23" font-weight="bold" text-anchor="end" fill="#111111" stroke="#111111" stroke-width="0.25" transform="rotate(-45 188.72 286.58)" >DMSO</text>
<text x="211.02" y="287.14" font-family="Liberation Serif" font-size="8.61" font-weight="bold" text-anchor="end" fill="#111111" stroke="#111111" stroke-width="0.25" transform="rotate(-45 211.02 287.14)" >LPS</text>
<text x="236.56" y="285.3" font-family="Liberation Serif" font-size="9" font-weight="bold" text-anchor="end" fill="#111111" stroke="#111111" stroke-width="0.25" transform="rotate(-45 236.56 285.3)" >5 μg/mL</text>
<text x="258.16" y="284.58" font-family="Liberation Serif" font-size="9.2" font-weight="bold" text-anchor="end" fill="#111111" stroke="#111111" stroke-width="0.25" transform="rotate(-45 258.16 284.58)" >10 μg/mL</text>
<line x1="207.7" y1="312.4" x2="235.3" y2="312.4" stroke="#777" stroke-width="1" />
<text x="224.52" y="321.66" font-family="Liberation Serif" font-size="8.91" font-weight="bold" text-anchor="middle" fill="#111111" stroke="#111111" stroke-width="0.25" >LPS + CAR</text>
<line x1="184.2" y1="206.4" x2="205.9" y2="206.4" stroke="#777" stroke-width="1" />
<polygon points="187.39,198.93 188,200.39 189.57,200.52 188.37,201.55 188.74,203.09 187.39,202.26 186.04,203.09 186.4,201.55 185.2,200.52 186.78,200.39" fill="#404040" stroke="#404040" stroke-width="0.35" stroke-linejoin="round"/>
<polygon points="192.7,198.93 193.3,200.39 194.88,200.52 193.68,201.55 194.05,203.09 192.7,202.26 191.34,203.09 191.71,201.55 190.51,200.52 192.09,200.39" fill="#404040" stroke="#404040" stroke-width="0.35" stroke-linejoin="round"/>
<polygon points="198,198.93 198.61,200.39 200.19,200.52 198.99,201.55 199.36,203.09 198,202.26 196.65,203.09 197.02,201.55 195.82,200.52 197.4,200.39" fill="#404040" stroke="#404040" stroke-width="0.35" stroke-linejoin="round"/>
<polygon points="203.31,198.93 203.92,200.39 205.5,200.52 204.3,201.55 204.66,203.09 203.31,202.26 201.96,203.09 202.33,201.55 201.13,200.52 202.7,200.39" fill="#404040" stroke="#404040" stroke-width="0.35" stroke-linejoin="round"/>
<line x1="208.5" y1="206.4" x2="230.2" y2="206.4" stroke="#777" stroke-width="1" />
<text x="219.54" y="202.36" font-family="Liberation Serif" font-size="10.18" font-weight="bold" text-anchor="middle" fill="#111111" stroke="#111111" stroke-width="0.25" >ns</text>
<line x1="208.9" y1="193.5" x2="250.3" y2="193.5" stroke="#555" stroke-width="1" />
<text x="230.82" y="189.02" font-family="Liberation Serif" font-size="11.18" font-weight="bold" text-anchor="middle" fill="#111111" stroke="#111111" stroke-width="0.25" >ns</text>
<text x="153.88" y="234.5" font-family="Liberation Serif" font-size="8.85" font-weight="bold" text-anchor="middle" fill="#111111" stroke="#111111" stroke-width="0.25" transform="rotate(-90 153.88 234.5)" >TNF-α (ng/ml)</text>
<text x="97.32" y="369.42" font-family="Liberation Serif" font-size="10.44" font-weight="bold" text-anchor="middle" fill="#111111" stroke="#111111" stroke-width="0.25" >IL-6</text>
<line x1="81.6" y1="424.82" x2="81.6" y2="420.27" stroke="#4a4a4a" stroke-width="1" />
<line x1="77.36" y1="420.27" x2="85.84" y2="420.27" stroke="#4a4a4a" stroke-width="1" />
<rect x="73.6" y="424.82" width="16" height="56.88" fill="#a2a2a2" stroke="#4a4a4a" stroke-width="1"/>
<line x1="105.75" y1="442.05" x2="105.75" y2="439.45" stroke="#4a4a4a" stroke-width="1" />
<line x1="101.43" y1="439.45" x2="110.07" y2="439.45" stroke="#4a4a4a" stroke-width="1" />
<rect x="97.6" y="442.05" width="16.3" height="39.65" fill="#6e7078" stroke="#4a4a4a" stroke-width="1"/>
<line x1="130.2" y1="441.4" x2="130.2" y2="439.45" stroke="#4a4a4a" stroke-width="1" />
<line x1="125.91" y1="439.45" x2="134.49" y2="439.45" stroke="#4a4a4a" stroke-width="1" />
<rect x="122.1" y="441.4" width="16.2" height="40.3" fill="#141616" stroke="#4a4a4a" stroke-width="1"/>
<line x1="45.4" y1="481.7" x2="45.4" y2="384.2" stroke="#5a5a5a" stroke-width="1" />
<line x1="45.4" y1="481.7" x2="141.8" y2="481.7" stroke="#5a5a5a" stroke-width="1" />
<line x1="42.5" y1="481.7" x2="45.4" y2="481.7" stroke="#5a5a5a" stroke-width="1" />
<text x="40.7" y="484.78" font-family="Liberation Serif" font-size="6.9" font-weight="bold" text-anchor="end" fill="#333" stroke="#333" stroke-width="0.25" >0</text>
<line x1="42.5" y1="449.2" x2="45.4" y2="449.2" stroke="#5a5a5a" stroke-width="1" />
<text x="40.7" y="452.28" font-family="Liberation Serif" font-size="6.9" font-weight="bold" text-anchor="end" fill="#333" stroke="#333" stroke-width="0.25" >5</text>
<line x1="42.5" y1="416.7" x2="45.4" y2="416.7" stroke="#5a5a5a" stroke-width="1" />
<text x="40.7" y="419.78" font-family="Liberation Serif" font-size="6.9" font-weight="bold" text-anchor="end" fill="#333" stroke="#333" stroke-width="0.25" >10</text>
<line x1="42.5" y1="384.2" x2="45.4" y2="384.2" stroke="#5a5a5a" stroke-width="1" />
<text x="40.7" y="387.28" font-family="Liberation Serif" font-size="6.9" font-weight="bold" text-anchor="end" fill="#333" stroke="#333" stroke-width="0.25" >15</text>
<line x1="58" y1="481.7" x2="58" y2="484.7" stroke="#5a5a5a" stroke-width="1" />
<line x1="81.4" y1="481.7" x2="81.4" y2="484.7" stroke="#5a5a5a" stroke-width="1" />
<line x1="105.6" y1="481.7" x2="105.6" y2="484.7" stroke="#5a5a5a" stroke-width="1" />
<line x1="129.8" y1="481.7" x2="129.8" y2="484.7" stroke="#5a5a5a" stroke-width="1" />
<text x="60.12" y="490.76" font-family="Liberation Serif" font-size="9.01" font-weight="bold" text-anchor="end" fill="#111111" stroke="#111111" stroke-width="0.25" transform="rotate(-45 60.12 490.76)" >DMSO</text>
<text x="86.16" y="490.6" font-family="Liberation Serif" font-size="8.64" font-weight="bold" text-anchor="end" fill="#111111" stroke="#111111" stroke-width="0.25" transform="rotate(-45 86.16 490.6)" >LPS</text>
<text x="110.2" y="490.28" font-family="Liberation Serif" font-size="9.22" font-weight="bold" text-anchor="end" fill="#111111" stroke="#111111" stroke-width="0.25" transform="rotate(-45 110.2 490.28)" >5 μg/ml</text>
<text x="136" y="488.92" font-family="Liberation Serif" font-size="9.69" font-weight="bold" text-anchor="end" fill="#111111" stroke="#111111" stroke-width="0.25" transform="rotate(-45 136 488.92)" >10 μg/ml</text>
<line x1="85.2" y1="516.8" x2="107.6" y2="516.8" stroke="#777" stroke-width="1" />
<text x="96.04" y="527.44" font-family="Liberation Serif" font-size="9.24" font-weight="bold" text-anchor="middle" fill="#111111" stroke="#111111" stroke-width="0.25" >LPS+CAR</text>
<line x1="58.9" y1="413.3" x2="82.6" y2="413.3" stroke="#555" stroke-width="1" />
<polygon points="64.59,405.63 65.2,407.09 66.77,407.22 65.57,408.25 65.94,409.79 64.59,408.97 63.24,409.79 63.6,408.25 62.4,407.22 63.98,407.09" fill="#404040" stroke="#404040" stroke-width="0.35" stroke-linejoin="round"/>
<polygon points="69.7,405.63 70.31,407.09 71.89,407.22 70.68,408.25 71.05,409.79 69.7,408.97 68.35,409.79 68.72,408.25 67.51,407.22 69.09,407.09" fill="#404040" stroke="#404040" stroke-width="0.35" stroke-linejoin="round"/>
<polygon points="74.81,405.63 75.42,407.09 77,407.22 75.8,408.25 76.16,409.79 74.81,408.97 73.46,409.79 73.83,408.25 72.63,407.22 74.2,407.09" fill="#404040" stroke="#404040" stroke-width="0.35" stroke-linejoin="round"/>
<line x1="84" y1="400.1" x2="107.2" y2="400.1" stroke="#555" stroke-width="1" />
<polygon points="96.3,393.83 96.91,395.29 98.49,395.42 97.28,396.45 97.65,397.99 96.3,397.17 94.95,397.99 95.32,396.45 94.11,395.42 95.69,395.29" fill="#404040" stroke="#404040" stroke-width="0.35" stroke-linejoin="round"/>
<line x1="84" y1="386" x2="130" y2="386" stroke="#555" stroke-width="1" />
<polygon points="107.2,379.23 107.81,380.69 109.39,380.82 108.18,381.85 108.55,383.39 107.2,382.57 105.85,383.39 106.22,381.85 105.01,380.82 106.59,380.69" fill="#404040" stroke="#404040" stroke-width="0.35" stroke-linejoin="round"/>
<text x="19" y="435.38" font-family="Liberation Serif" font-size="9.91" font-weight="bold" text-anchor="middle" fill="#111111" stroke="#111111" stroke-width="0.25" transform="rotate(-90 19 435.38)" >Relative expression</text>
<text x="30.96" y="432.98" font-family="Liberation Serif" font-size="9.86" font-weight="bold" text-anchor="middle" fill="#111111" stroke="#111111" stroke-width="0.25" transform="rotate(-90 30.96 432.98)" >( compare to HPRT)</text>
<text x="242.88" y="363.4" font-family="Liberation Serif" font-size="10.28" font-weight="bold" text-anchor="middle" fill="#111111" stroke="#111111" stroke-width="0.25" >TNF-α</text>
<rect x="193.6" y="479.08" width="16" height="1.22" fill="#a2a2a2" stroke="#4a4a4a" stroke-width="1"/>
<line x1="226.2" y1="410.66" x2="226.2" y2="409.69" stroke="#4a4a4a" stroke-width="1" />
<line x1="221.8" y1="409.69" x2="230.6" y2="409.69" stroke="#4a4a4a" stroke-width="1" />
<rect x="217.9" y="410.66" width="16.6" height="69.64" fill="#a2a2a2" stroke="#4a4a4a" stroke-width="1"/>
<line x1="250.5" y1="398.24" x2="250.5" y2="397.75" stroke="#4a4a4a" stroke-width="1" />
<line x1="246.15" y1="397.75" x2="254.85" y2="397.75" stroke="#4a4a4a" stroke-width="1" />
<rect x="242.3" y="398.24" width="16.4" height="82.06" fill="#6e7078" stroke="#4a4a4a" stroke-width="1"/>
<line x1="274.65" y1="397.51" x2="274.65" y2="395.56" stroke="#4a4a4a" stroke-width="1" />
<line x1="270.33" y1="395.56" x2="278.97" y2="395.56" stroke="#4a4a4a" stroke-width="1" />
<rect x="266.5" y="397.51" width="16.3" height="82.79" fill="#141616" stroke="#4a4a4a" stroke-width="1"/>
<line x1="189.9" y1="480.3" x2="189.9" y2="382.9" stroke="#5a5a5a" stroke-width="1" />
<line x1="189.9" y1="480.3" x2="287.3" y2="480.3" stroke="#5a5a5a" stroke-width="1" />
<line x1="186.3" y1="480.3" x2="189.9" y2="480.3" stroke="#5a5a5a" stroke-width="1" />
<text x="185.4" y="483.21" font-family="Liberation Serif" font-size="7" font-weight="bold" text-anchor="end" fill="#333" stroke="#333" stroke-width="0.25" >0</text>
<line x1="186.3" y1="455.95" x2="189.9" y2="455.95" stroke="#5a5a5a" stroke-width="1" />
<text x="185.4" y="458.86" font-family="Liberation Serif" font-size="7" font-weight="bold" text-anchor="end" fill="#333" stroke="#333" stroke-width="0.25" >5</text>
<line x1="186.3" y1="431.6" x2="189.9" y2="431.6" stroke="#5a5a5a" stroke-width="1" />
<text x="185.4" y="434.51" font-family="Liberation Serif" font-size="7" font-weight="bold" text-anchor="end" fill="#333" stroke="#333" stroke-width="0.25" >10</text>
<line x1="186.3" y1="407.25" x2="189.9" y2="407.25" stroke="#5a5a5a" stroke-width="1" />
<text x="185.4" y="410.16" font-family="Liberation Serif" font-size="7" font-weight="bold" text-anchor="end" fill="#333" stroke="#333" stroke-width="0.25" >15</text>
<line x1="186.3" y1="382.9" x2="189.9" y2="382.9" stroke="#5a5a5a" stroke-width="1" />
<text x="185.4" y="385.81" font-family="Liberation Serif" font-size="7" font-weight="bold" text-anchor="end" fill="#333" stroke="#333" stroke-width="0.25" >20</text>
<line x1="201.8" y1="480.3" x2="201.8" y2="483.3" stroke="#5a5a5a" stroke-width="1" />
<line x1="226.4" y1="480.3" x2="226.4" y2="483.3" stroke="#5a5a5a" stroke-width="1" />
<line x1="250.5" y1="480.3" x2="250.5" y2="483.3" stroke="#5a5a5a" stroke-width="1" />
<line x1="274.6" y1="480.3" x2="274.6" y2="483.3" stroke="#5a5a5a" stroke-width="1" />
<text x="204.32" y="488.2" font-family="Liberation Serif" font-size="8.96" font-weight="bold" text-anchor="end" fill="#111111" stroke="#111111" stroke-width="0.25" transform="rotate(-45 204.32 488.2)" >DMSO</text>
<text x="230.68" y="488.36" font-family="Liberation Serif" font-size="8.69" font-weight="bold" text-anchor="end" fill="#111111" stroke="#111111" stroke-width="0.25" transform="rotate(-45 230.68 488.36)" >LPS</text>
<text x="255.34" y="489.24" font-family="Liberation Serif" font-size="8.94" font-weight="bold" text-anchor="end" fill="#111111" stroke="#111111" stroke-width="0.25" transform="rotate(-45 255.34 489.24)" >5 μg/ml</text>
<text x="278.64" y="488.44" font-family="Liberation Serif" font-size="8.93" font-weight="bold" text-anchor="end" fill="#111111" stroke="#111111" stroke-width="0.25" transform="rotate(-45 278.64 488.44)" >10 μg/ml</text>
<line x1="230" y1="515.8" x2="253" y2="515.8" stroke="#777" stroke-width="1" />
<text x="241.64" y="527.04" font-family="Liberation Serif" font-size="9.56" font-weight="bold" text-anchor="middle" fill="#111111" stroke="#111111" stroke-width="0.25" >LPS+CAR</text>
<line x1="203.6" y1="402.4" x2="227" y2="402.4" stroke="#555" stroke-width="1" />
<polygon points="207.29,395.33 207.9,396.79 209.47,396.92 208.27,397.95 208.64,399.49 207.29,398.67 205.94,399.49 206.3,397.95 205.1,396.92 206.68,396.79" fill="#404040" stroke="#404040" stroke-width="0.35" stroke-linejoin="round"/>
<polygon points="212.56,395.33 213.17,396.79 214.75,396.92 213.55,397.95 213.91,399.49 212.56,398.67 211.21,399.49 211.58,397.95 210.38,396.92 211.95,396.79" fill="#404040" stroke="#404040" stroke-width="0.35" stroke-linejoin="round"/>
<polygon points="217.84,395.33 218.45,396.79 220.02,396.92 218.82,397.95 219.19,399.49 217.84,398.67 216.49,399.49 216.85,397.95 215.65,396.92 217.23,396.79" fill="#404040" stroke="#404040" stroke-width="0.35" stroke-linejoin="round"/>
<polygon points="223.11,395.33 223.72,396.79 225.3,396.92 224.1,397.95 224.46,399.49 223.11,398.67 221.76,399.49 222.13,397.95 220.93,396.92 222.5,396.79" fill="#404040" stroke="#404040" stroke-width="0.35" stroke-linejoin="round"/>
<line x1="228.5" y1="389.2" x2="252" y2="389.2" stroke="#555" stroke-width="1" />
<polygon points="238.19,382.43 238.8,383.89 240.37,384.02 239.17,385.05 239.54,386.59 238.19,385.77 236.84,386.59 237.2,385.05 236,384.02 237.58,383.89" fill="#404040" stroke="#404040" stroke-width="0.35" stroke-linejoin="round"/>
<polygon points="243.61,382.43 244.22,383.89 245.8,384.02 244.6,385.05 244.96,386.59 243.61,385.77 242.26,386.59 242.63,385.05 241.43,384.02 243,383.89" fill="#404040" stroke="#404040" stroke-width="0.35" stroke-linejoin="round"/>
<line x1="228.5" y1="376.1" x2="275.1" y2="376.1" stroke="#555" stroke-width="1" />
<polygon points="248.49,368.93 249.1,370.39 250.67,370.52 249.47,371.55 249.84,373.09 248.49,372.27 247.14,373.09 247.5,371.55 246.3,370.52 247.88,370.39" fill="#404040" stroke="#404040" stroke-width="0.35" stroke-linejoin="round"/>
<polygon points="253.61,368.93 254.22,370.39 255.8,370.52 254.6,371.55 254.96,373.09 253.61,372.27 252.26,373.09 252.63,371.55 251.43,370.52 253,370.39" fill="#404040" stroke="#404040" stroke-width="0.35" stroke-linejoin="round"/>
<text x="163.52" y="433.36" font-family="Liberation Serif" font-size="9.65" font-weight="bold" text-anchor="middle" fill="#111111" stroke="#111111" stroke-width="0.25" transform="rotate(-90 163.52 433.36)" >Relative expression</text>
<text x="174.4" y="429.36" font-family="Liberation Serif" font-size="10.28" font-weight="bold" text-anchor="middle" fill="#111111" stroke="#111111" stroke-width="0.25" transform="rotate(-90 174.4 429.36)" >( compare to HPRT)</text>
</svg>
</body></html>
